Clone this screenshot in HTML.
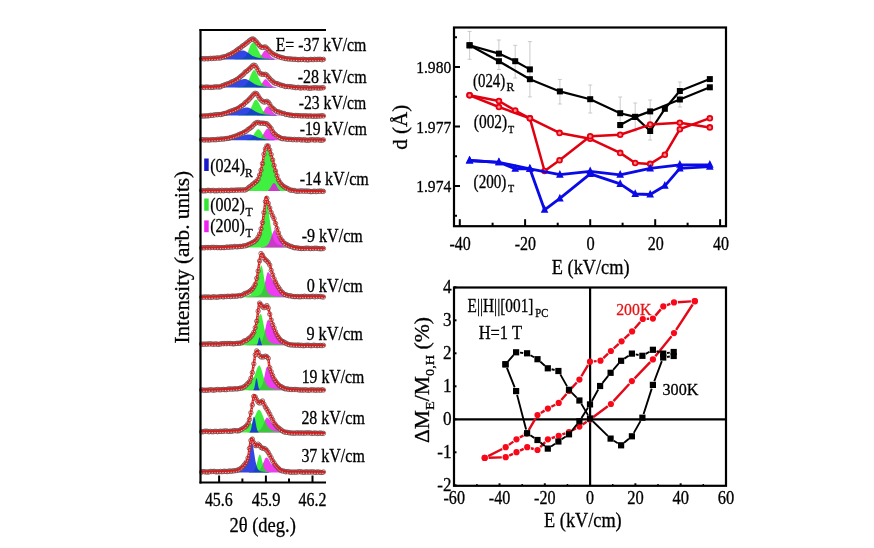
<!DOCTYPE html>
<html><head><meta charset="utf-8"><style>
html,body{margin:0;padding:0;background:#fff;}
svg{display:block;}
text{font-family:'Liberation Serif','Times New Roman',serif;stroke:currentColor;stroke-width:0.3px;}
</style></head><body>
<svg width="874" height="548" viewBox="0 0 874 548">
<rect width="874" height="548" fill="#fff"/>
<polygon points="255.00,59.40 255.00,59.02 255.50,58.96 256.00,58.89 256.50,58.81 257.00,58.70 257.50,58.55 258.00,58.36 258.50,58.12 259.00,57.82 259.50,57.44 260.00,56.99 260.50,56.45 261.00,55.82 261.50,55.12 262.00,54.36 262.50,53.56 263.00,52.76 263.50,52.00 264.00,51.32 264.50,50.80 265.00,50.48 265.50,50.40 266.00,50.54 266.50,50.86 267.00,51.34 267.50,51.93 268.00,52.59 268.50,53.30 269.00,54.01 269.50,54.70 270.00,55.35 270.50,55.95 271.00,56.49 271.50,56.97 272.00,57.38 272.50,57.72 273.00,58.01 273.50,58.25 274.00,58.44 274.50,58.59 275.00,58.71 275.50,58.81 276.00,58.89 276.50,58.95 277.00,58.99 277.50,59.03 277.50,59.40" fill="#ec0bec" fill-opacity="0.8"/>
<polygon points="234.50,59.40 234.50,59.04 235.00,59.03 235.50,59.00 236.00,58.98 236.50,58.96 237.00,58.93 237.50,58.90 238.00,58.87 238.50,58.83 239.00,58.79 239.50,58.74 240.00,58.68 240.50,58.61 241.00,58.53 241.50,58.43 242.00,58.30 242.50,58.14 243.00,57.94 243.50,57.69 244.00,57.39 244.50,57.01 245.00,56.55 245.50,55.99 246.00,55.33 246.50,54.55 247.00,53.66 247.50,52.65 248.00,51.52 248.50,50.30 249.00,49.00 249.50,47.65 250.00,46.30 250.50,45.22 251.00,44.45 251.50,43.76 252.00,43.18 252.50,42.72 253.00,42.41 253.50,42.31 254.00,42.49 254.50,42.94 255.00,43.42 255.50,44.10 256.00,45.16 256.50,46.30 257.00,47.46 257.50,48.62 258.00,49.75 258.50,50.83 259.00,51.85 259.50,52.80 260.00,53.66 260.50,54.43 261.00,55.12 261.50,55.72 262.00,56.24 262.50,56.69 263.00,57.07 263.50,57.39 264.00,57.65 264.50,57.88 265.00,58.06 265.50,58.21 266.00,58.34 266.50,58.44 267.00,58.53 267.50,58.60 268.00,58.66 268.50,58.72 269.00,58.76 269.50,58.80 270.00,58.84 270.50,58.87 271.00,58.90 271.50,58.92 272.00,58.95 272.50,58.97 273.00,58.99 273.50,59.01 274.00,59.03 274.50,59.04 274.50,59.40" fill="#0aec0a" fill-opacity="0.78"/>
<polygon points="201.00,59.40 201.00,58.99 201.50,58.98 202.00,58.97 202.50,58.96 203.00,58.95 203.50,58.94 204.00,58.92 204.50,58.91 205.00,58.90 205.50,58.89 206.00,58.87 206.50,58.86 207.00,58.85 207.50,58.84 208.00,58.82 208.50,58.81 209.00,58.79 209.50,58.77 210.00,58.75 210.50,58.73 211.00,58.71 211.50,58.68 212.00,58.66 212.50,58.64 213.00,58.62 213.50,58.60 214.00,58.57 214.50,58.55 215.00,58.52 215.50,58.49 216.00,58.46 216.50,58.43 217.00,58.39 217.50,58.34 218.00,58.29 218.50,58.24 219.00,58.18 219.50,58.11 220.00,58.03 220.50,57.94 221.00,57.84 221.50,57.73 222.00,57.61 222.50,57.49 223.00,57.38 223.50,57.27 224.00,57.16 224.50,57.03 225.00,56.90 225.50,56.77 226.00,56.62 226.50,56.47 227.00,56.31 227.50,56.14 228.00,55.97 228.50,55.79 229.00,55.60 229.50,55.40 230.00,55.20 230.50,54.99 231.00,54.77 231.50,54.55 232.00,54.32 232.50,54.08 233.00,53.85 233.50,53.60 234.00,53.36 234.50,53.11 235.00,52.87 235.50,52.62 236.00,52.38 236.50,52.15 237.00,51.92 237.50,51.69 238.00,51.48 238.50,51.28 239.00,51.10 239.50,50.93 240.00,50.78 240.50,50.66 241.00,50.56 241.50,50.48 242.00,50.43 242.50,50.40 243.00,50.41 243.50,50.47 244.00,50.58 244.50,50.74 245.00,50.95 245.50,51.19 246.00,51.46 246.50,51.77 247.00,52.09 247.50,52.42 248.00,52.76 248.50,53.11 249.00,53.45 249.50,53.80 250.00,54.13 250.50,54.54 251.00,54.98 251.50,55.35 252.00,55.67 252.50,55.93 253.00,56.14 253.50,56.33 254.00,56.52 254.50,56.71 255.00,56.86 255.50,57.00 256.00,57.17 256.50,57.34 257.00,57.48 257.50,57.62 258.00,57.75 258.50,57.86 259.00,57.96 259.50,58.06 260.00,58.15 260.50,58.23 261.00,58.30 261.50,58.36 262.00,58.42 262.50,58.48 263.00,58.53 263.50,58.57 264.00,58.61 264.50,58.65 265.00,58.68 265.50,58.72 266.00,58.75 266.50,58.77 267.00,58.80 267.50,58.82 268.00,58.84 268.50,58.87 269.00,58.88 269.50,58.90 270.00,58.92 270.50,58.94 271.00,58.95 271.50,58.97 272.00,58.98 272.50,58.99 273.00,59.01 273.50,59.02 274.00,59.03 274.50,59.04 274.50,59.40" fill="#0e26e2" fill-opacity="0.85"/>
<g fill="none" stroke="#7a4646" stroke-width="0.8"><circle cx="201.60" cy="58.76" r="2.2"/><circle cx="203.05" cy="58.61" r="2.2"/><circle cx="204.50" cy="58.94" r="2.2"/><circle cx="205.95" cy="58.50" r="2.2"/><circle cx="207.40" cy="58.79" r="2.2"/><circle cx="208.85" cy="58.62" r="2.2"/><circle cx="210.30" cy="58.35" r="2.2"/><circle cx="211.75" cy="58.59" r="2.2"/><circle cx="213.20" cy="58.19" r="2.2"/><circle cx="214.65" cy="58.40" r="2.2"/><circle cx="216.10" cy="58.05" r="2.2"/><circle cx="217.55" cy="57.94" r="2.2"/><circle cx="219.00" cy="58.01" r="2.2"/><circle cx="220.45" cy="58.04" r="2.2"/><circle cx="221.90" cy="57.22" r="2.2"/><circle cx="223.35" cy="56.88" r="2.2"/><circle cx="224.80" cy="56.66" r="2.2"/><circle cx="226.25" cy="56.33" r="2.2"/><circle cx="227.70" cy="55.49" r="2.2"/><circle cx="229.15" cy="54.75" r="2.2"/><circle cx="230.60" cy="54.50" r="2.2"/><circle cx="232.05" cy="53.13" r="2.2"/><circle cx="233.50" cy="52.91" r="2.2"/><circle cx="234.95" cy="51.63" r="2.2"/><circle cx="236.40" cy="50.54" r="2.2"/><circle cx="237.85" cy="49.45" r="2.2"/><circle cx="239.30" cy="48.46" r="2.2"/><circle cx="240.75" cy="47.68" r="2.2"/><circle cx="242.20" cy="46.13" r="2.2"/><circle cx="243.65" cy="45.32" r="2.2"/><circle cx="245.10" cy="44.27" r="2.2"/><circle cx="246.55" cy="42.98" r="2.2"/><circle cx="248.00" cy="41.97" r="2.2"/><circle cx="249.45" cy="40.59" r="2.2"/><circle cx="250.90" cy="39.59" r="2.2"/><circle cx="252.35" cy="38.87" r="2.2"/><circle cx="253.80" cy="39.27" r="2.2"/><circle cx="255.25" cy="40.70" r="2.2"/><circle cx="256.70" cy="42.19" r="2.2"/><circle cx="258.15" cy="44.02" r="2.2"/><circle cx="259.60" cy="45.79" r="2.2"/><circle cx="261.05" cy="47.08" r="2.2"/><circle cx="262.50" cy="47.48" r="2.2"/><circle cx="263.95" cy="47.14" r="2.2"/><circle cx="265.40" cy="46.93" r="2.2"/><circle cx="266.85" cy="48.19" r="2.2"/><circle cx="268.30" cy="49.66" r="2.2"/><circle cx="269.75" cy="51.41" r="2.2"/><circle cx="271.20" cy="52.75" r="2.2"/><circle cx="272.65" cy="53.62" r="2.2"/><circle cx="274.10" cy="54.97" r="2.2"/><circle cx="275.55" cy="55.09" r="2.2"/><circle cx="277.00" cy="55.90" r="2.2"/><circle cx="278.45" cy="56.74" r="2.2"/><circle cx="279.90" cy="56.91" r="2.2"/><circle cx="281.35" cy="57.62" r="2.2"/><circle cx="282.80" cy="57.66" r="2.2"/><circle cx="284.25" cy="58.36" r="2.2"/><circle cx="285.70" cy="58.64" r="2.2"/><circle cx="287.15" cy="58.69" r="2.2"/><circle cx="288.60" cy="59.05" r="2.2"/><circle cx="290.05" cy="58.80" r="2.2"/><circle cx="291.50" cy="59.18" r="2.2"/><circle cx="292.95" cy="59.21" r="2.2"/><circle cx="294.40" cy="59.28" r="2.2"/><circle cx="295.85" cy="59.26" r="2.2"/><circle cx="297.30" cy="59.59" r="2.2"/><circle cx="298.75" cy="59.72" r="2.2"/><circle cx="300.20" cy="59.43" r="2.2"/><circle cx="301.65" cy="59.59" r="2.2"/><circle cx="303.10" cy="59.19" r="2.2"/><circle cx="304.55" cy="59.66" r="2.2"/><circle cx="306.00" cy="59.64" r="2.2"/><circle cx="307.45" cy="59.89" r="2.2"/><circle cx="308.90" cy="59.78" r="2.2"/><circle cx="310.35" cy="59.41" r="2.2"/><circle cx="311.80" cy="59.49" r="2.2"/><circle cx="313.25" cy="59.69" r="2.2"/><circle cx="314.70" cy="59.25" r="2.2"/><circle cx="316.15" cy="59.56" r="2.2"/><circle cx="317.60" cy="59.35" r="2.2"/><circle cx="319.05" cy="59.32" r="2.2"/><circle cx="320.50" cy="59.28" r="2.2"/><circle cx="321.95" cy="59.78" r="2.2"/><circle cx="323.40" cy="59.33" r="2.2"/></g>
<path d="M200.80,58.90 C202.40,58.86 207.20,58.82 210.40,58.65 C213.60,58.48 217.18,58.41 220.00,57.90 C222.82,57.39 224.87,56.58 227.30,55.60 C229.73,54.62 232.15,53.52 234.60,52.00 C237.05,50.48 240.17,47.87 242.00,46.50 C243.83,45.13 244.38,44.72 245.60,43.80 C246.82,42.88 248.07,41.82 249.30,41.00 C250.53,40.18 252.03,38.97 253.00,38.90 C253.97,38.83 254.25,39.77 255.10,40.60 C255.95,41.43 257.12,42.80 258.10,43.90 C259.08,45.00 260.03,46.68 261.00,47.20 C261.97,47.72 263.05,46.95 263.90,47.00 C264.75,47.05 265.12,46.80 266.10,47.50 C267.08,48.20 268.70,50.15 269.80,51.20 C270.90,52.25 271.48,53.00 272.70,53.80 C273.92,54.60 275.22,55.27 277.10,56.00 C278.98,56.73 280.43,57.63 284.00,58.20 C287.57,58.77 291.65,59.17 298.50,59.40 C305.35,59.63 320.67,59.57 325.10,59.60" fill="none" stroke="#d21e1e" stroke-width="2.5" stroke-linejoin="round"/>
<path d="M200.80,58.90 C202.40,58.86 207.20,58.82 210.40,58.65 C213.60,58.48 217.18,58.41 220.00,57.90 C222.82,57.39 224.87,56.58 227.30,55.60 C229.73,54.62 232.15,53.52 234.60,52.00 C237.05,50.48 240.17,47.87 242.00,46.50 C243.83,45.13 244.38,44.72 245.60,43.80 C246.82,42.88 248.07,41.82 249.30,41.00 C250.53,40.18 252.03,38.97 253.00,38.90 C253.97,38.83 254.25,39.77 255.10,40.60 C255.95,41.43 257.12,42.80 258.10,43.90 C259.08,45.00 260.03,46.68 261.00,47.20 C261.97,47.72 263.05,46.95 263.90,47.00 C264.75,47.05 265.12,46.80 266.10,47.50 C267.08,48.20 268.70,50.15 269.80,51.20 C270.90,52.25 271.48,53.00 272.70,53.80 C273.92,54.60 275.22,55.27 277.10,56.00 C278.98,56.73 280.43,57.63 284.00,58.20 C287.57,58.77 291.65,59.17 298.50,59.40 C305.35,59.63 320.67,59.57 325.10,59.60" fill="none" stroke="#f6d0d0" stroke-width="0.9" stroke-dasharray="1.1 1.6" transform="translate(0,1.15)"/>
<polygon points="255.50,87.60 255.50,87.21 256.00,87.15 256.50,87.08 257.00,86.99 257.50,86.87 258.00,86.71 258.50,86.50 259.00,86.24 259.50,85.92 260.00,85.53 260.50,85.05 261.00,84.50 261.50,83.88 262.00,83.19 262.50,82.45 263.00,81.70 263.50,80.97 264.00,80.30 264.50,79.75 265.00,79.37 265.50,79.20 266.00,79.26 266.50,79.49 267.00,79.88 267.50,80.40 268.00,80.99 268.50,81.64 269.00,82.30 269.50,82.96 270.00,83.58 270.50,84.16 271.00,84.69 271.50,85.16 272.00,85.57 272.50,85.91 273.00,86.20 273.50,86.44 274.00,86.64 274.50,86.79 275.00,86.92 275.50,87.02 276.00,87.09 276.50,87.15 277.00,87.20 277.50,87.24 277.50,87.60" fill="#ec0bec" fill-opacity="0.8"/>
<polygon points="235.00,87.60 235.00,87.24 235.50,87.22 236.00,87.20 236.50,87.18 237.00,87.15 237.50,87.13 238.00,87.10 238.50,87.07 239.00,87.03 239.50,86.99 240.00,86.94 240.50,86.88 241.00,86.82 241.50,86.73 242.00,86.63 242.50,86.51 243.00,86.36 243.50,86.17 244.00,85.95 244.50,85.66 245.00,85.32 245.50,84.91 246.00,84.41 246.50,83.83 247.00,83.14 247.50,82.36 248.00,81.48 248.50,80.49 249.00,79.42 249.50,78.27 250.00,77.06 250.50,75.82 251.00,74.59 251.50,73.42 252.00,72.34 252.50,71.42 253.00,70.70 253.50,70.25 254.00,70.10 254.50,70.23 255.00,70.60 255.50,71.19 256.00,71.96 256.50,72.89 257.00,73.91 257.50,75.00 258.00,76.12 258.50,77.23 259.00,78.32 259.50,79.36 260.00,80.34 260.50,81.25 261.00,82.08 261.50,82.82 262.00,83.48 262.50,84.06 263.00,84.56 263.50,84.99 264.00,85.36 264.50,85.66 265.00,85.92 265.50,86.13 266.00,86.31 266.50,86.46 267.00,86.58 267.50,86.68 268.00,86.76 268.50,86.83 269.00,86.89 269.50,86.94 270.00,86.99 270.50,87.02 271.00,87.06 271.50,87.09 272.00,87.12 272.50,87.14 273.00,87.16 273.50,87.19 274.00,87.20 274.50,87.22 275.00,87.24 275.00,87.60" fill="#0aec0a" fill-opacity="0.78"/>
<polygon points="208.00,87.60 208.00,87.25 208.50,87.24 209.00,87.23 209.50,87.21 210.00,87.20 210.50,87.18 211.00,87.17 211.50,87.16 212.00,87.15 212.50,87.14 213.00,87.13 213.50,87.12 214.00,87.12 214.50,87.11 215.00,87.09 215.50,87.08 216.00,87.06 216.50,87.04 217.00,87.02 217.50,86.98 218.00,86.95 218.50,86.90 219.00,86.85 219.50,86.78 220.00,86.71 220.50,86.62 221.00,86.51 221.50,86.39 222.00,86.25 222.50,86.14 223.00,86.07 223.50,85.99 224.00,85.90 224.50,85.81 225.00,85.71 225.50,85.61 226.00,85.50 226.50,85.39 227.00,85.26 227.50,85.14 228.00,85.00 228.50,84.86 229.00,84.71 229.50,84.55 230.00,84.39 230.50,84.22 231.00,84.04 231.50,83.85 232.00,83.66 232.50,83.46 233.00,83.26 233.50,83.05 234.00,82.83 234.50,82.61 235.00,82.38 235.50,82.15 236.00,81.92 236.50,81.69 237.00,81.45 237.50,81.22 238.00,80.99 238.50,80.76 239.00,80.54 239.50,80.32 240.00,80.11 240.50,79.92 241.00,79.74 241.50,79.57 242.00,79.42 242.50,79.29 243.00,79.19 243.50,79.10 244.00,79.04 244.50,79.01 245.00,79.00 245.50,79.04 246.00,79.12 246.50,79.26 247.00,79.44 247.50,79.66 248.00,79.91 248.50,80.19 249.00,80.49 249.50,80.80 250.00,81.13 250.50,81.46 251.00,81.79 251.50,82.12 252.00,82.44 252.50,82.76 253.00,83.06 253.50,83.36 254.00,83.64 254.50,83.91 255.00,84.17 255.50,84.41 256.00,84.64 256.50,84.85 257.00,85.05 257.50,85.24 258.00,85.41 258.50,85.57 259.00,85.71 259.50,85.85 260.00,85.97 260.50,86.09 261.00,86.19 261.50,86.28 262.00,86.37 262.50,86.45 263.00,86.52 263.50,86.58 264.00,86.64 264.50,86.70 265.00,86.75 265.50,86.79 266.00,86.83 266.50,86.87 267.00,86.90 267.50,86.93 268.00,86.96 268.50,86.99 269.00,87.02 269.50,87.04 270.00,87.06 270.50,87.08 271.00,87.10 271.50,87.12 272.00,87.13 272.50,87.15 273.00,87.17 273.50,87.18 274.00,87.19 274.50,87.21 275.00,87.22 275.50,87.23 276.00,87.24 276.00,87.60" fill="#0e26e2" fill-opacity="0.85"/>
<g fill="none" stroke="#7a4646" stroke-width="0.8"><circle cx="201.60" cy="87.11" r="2.2"/><circle cx="203.05" cy="87.19" r="2.2"/><circle cx="204.50" cy="87.51" r="2.2"/><circle cx="205.95" cy="86.94" r="2.2"/><circle cx="207.40" cy="87.17" r="2.2"/><circle cx="208.85" cy="87.21" r="2.2"/><circle cx="210.30" cy="87.40" r="2.2"/><circle cx="211.75" cy="87.31" r="2.2"/><circle cx="213.20" cy="87.32" r="2.2"/><circle cx="214.65" cy="86.88" r="2.2"/><circle cx="216.10" cy="86.93" r="2.2"/><circle cx="217.55" cy="86.80" r="2.2"/><circle cx="219.00" cy="87.02" r="2.2"/><circle cx="220.45" cy="86.83" r="2.2"/><circle cx="221.90" cy="85.89" r="2.2"/><circle cx="223.35" cy="85.41" r="2.2"/><circle cx="224.80" cy="84.86" r="2.2"/><circle cx="226.25" cy="84.25" r="2.2"/><circle cx="227.70" cy="83.83" r="2.2"/><circle cx="229.15" cy="83.35" r="2.2"/><circle cx="230.60" cy="82.55" r="2.2"/><circle cx="232.05" cy="81.75" r="2.2"/><circle cx="233.50" cy="81.35" r="2.2"/><circle cx="234.95" cy="80.50" r="2.2"/><circle cx="236.40" cy="79.69" r="2.2"/><circle cx="237.85" cy="78.93" r="2.2"/><circle cx="239.30" cy="77.66" r="2.2"/><circle cx="240.75" cy="76.41" r="2.2"/><circle cx="242.20" cy="75.32" r="2.2"/><circle cx="243.65" cy="74.07" r="2.2"/><circle cx="245.10" cy="72.16" r="2.2"/><circle cx="246.55" cy="71.43" r="2.2"/><circle cx="248.00" cy="70.09" r="2.2"/><circle cx="249.45" cy="68.93" r="2.2"/><circle cx="250.90" cy="67.49" r="2.2"/><circle cx="252.35" cy="65.87" r="2.2"/><circle cx="253.80" cy="65.12" r="2.2"/><circle cx="255.25" cy="65.55" r="2.2"/><circle cx="256.70" cy="67.84" r="2.2"/><circle cx="258.15" cy="70.40" r="2.2"/><circle cx="259.60" cy="73.01" r="2.2"/><circle cx="261.05" cy="74.00" r="2.2"/><circle cx="262.50" cy="74.26" r="2.2"/><circle cx="263.95" cy="74.44" r="2.2"/><circle cx="265.40" cy="74.30" r="2.2"/><circle cx="266.85" cy="75.15" r="2.2"/><circle cx="268.30" cy="76.91" r="2.2"/><circle cx="269.75" cy="78.57" r="2.2"/><circle cx="271.20" cy="80.21" r="2.2"/><circle cx="272.65" cy="81.27" r="2.2"/><circle cx="274.10" cy="82.81" r="2.2"/><circle cx="275.55" cy="83.33" r="2.2"/><circle cx="277.00" cy="83.58" r="2.2"/><circle cx="278.45" cy="84.17" r="2.2"/><circle cx="279.90" cy="84.78" r="2.2"/><circle cx="281.35" cy="85.27" r="2.2"/><circle cx="282.80" cy="85.42" r="2.2"/><circle cx="284.25" cy="86.19" r="2.2"/><circle cx="285.70" cy="86.54" r="2.2"/><circle cx="287.15" cy="86.42" r="2.2"/><circle cx="288.60" cy="86.67" r="2.2"/><circle cx="290.05" cy="86.61" r="2.2"/><circle cx="291.50" cy="86.81" r="2.2"/><circle cx="292.95" cy="87.15" r="2.2"/><circle cx="294.40" cy="87.25" r="2.2"/><circle cx="295.85" cy="87.76" r="2.2"/><circle cx="297.30" cy="87.40" r="2.2"/><circle cx="298.75" cy="87.38" r="2.2"/><circle cx="300.20" cy="88.08" r="2.2"/><circle cx="301.65" cy="87.83" r="2.2"/><circle cx="303.10" cy="87.59" r="2.2"/><circle cx="304.55" cy="87.89" r="2.2"/><circle cx="306.00" cy="87.55" r="2.2"/><circle cx="307.45" cy="87.91" r="2.2"/><circle cx="308.90" cy="88.24" r="2.2"/><circle cx="310.35" cy="88.16" r="2.2"/><circle cx="311.80" cy="88.05" r="2.2"/><circle cx="313.25" cy="87.75" r="2.2"/><circle cx="314.70" cy="87.82" r="2.2"/><circle cx="316.15" cy="87.68" r="2.2"/><circle cx="317.60" cy="88.10" r="2.2"/><circle cx="319.05" cy="87.93" r="2.2"/><circle cx="320.50" cy="88.10" r="2.2"/><circle cx="321.95" cy="87.78" r="2.2"/><circle cx="323.40" cy="87.70" r="2.2"/></g>
<path d="M200.80,87.30 C202.40,87.27 207.20,87.24 210.40,87.12 C213.60,87.01 217.18,87.12 220.00,86.60 C222.82,86.08 224.87,84.97 227.30,84.00 C229.73,83.03 232.15,82.23 234.60,80.80 C237.05,79.37 240.17,76.87 242.00,75.40 C243.83,73.93 244.38,73.10 245.60,72.00 C246.82,70.90 247.95,69.93 249.30,68.80 C250.65,67.67 252.48,65.40 253.70,65.20 C254.92,65.00 255.63,66.27 256.60,67.60 C257.57,68.93 258.52,72.05 259.50,73.20 C260.48,74.35 261.40,74.22 262.50,74.50 C263.60,74.78 264.88,74.17 266.10,74.90 C267.32,75.63 268.57,77.68 269.80,78.90 C271.03,80.12 272.03,81.28 273.50,82.20 C274.97,83.12 276.85,83.78 278.60,84.40 C280.35,85.02 280.68,85.35 284.00,85.90 C287.32,86.45 291.65,87.37 298.50,87.70 C305.35,88.03 320.67,87.87 325.10,87.90" fill="none" stroke="#d21e1e" stroke-width="2.5" stroke-linejoin="round"/>
<path d="M200.80,87.30 C202.40,87.27 207.20,87.24 210.40,87.12 C213.60,87.01 217.18,87.12 220.00,86.60 C222.82,86.08 224.87,84.97 227.30,84.00 C229.73,83.03 232.15,82.23 234.60,80.80 C237.05,79.37 240.17,76.87 242.00,75.40 C243.83,73.93 244.38,73.10 245.60,72.00 C246.82,70.90 247.95,69.93 249.30,68.80 C250.65,67.67 252.48,65.40 253.70,65.20 C254.92,65.00 255.63,66.27 256.60,67.60 C257.57,68.93 258.52,72.05 259.50,73.20 C260.48,74.35 261.40,74.22 262.50,74.50 C263.60,74.78 264.88,74.17 266.10,74.90 C267.32,75.63 268.57,77.68 269.80,78.90 C271.03,80.12 272.03,81.28 273.50,82.20 C274.97,83.12 276.85,83.78 278.60,84.40 C280.35,85.02 280.68,85.35 284.00,85.90 C287.32,86.45 291.65,87.37 298.50,87.70 C305.35,88.03 320.67,87.87 325.10,87.90" fill="none" stroke="#f6d0d0" stroke-width="0.9" stroke-dasharray="1.1 1.6" transform="translate(0,1.15)"/>
<polygon points="257.00,115.50 257.00,115.12 257.50,115.08 258.00,115.02 258.50,114.94 259.00,114.84 259.50,114.70 260.00,114.53 260.50,114.31 261.00,114.03 261.50,113.68 262.00,113.25 262.50,112.74 263.00,112.14 263.50,111.47 264.00,110.72 264.50,109.92 265.00,109.11 265.50,108.32 266.00,107.59 266.50,106.99 267.00,106.58 267.50,106.41 268.00,106.46 268.50,106.72 269.00,107.14 269.50,107.70 270.00,108.34 270.50,109.04 271.00,109.76 271.50,110.47 272.00,111.15 272.50,111.78 273.00,112.35 273.50,112.86 274.00,113.30 274.50,113.67 275.00,113.99 275.50,114.25 276.00,114.46 276.50,114.63 277.00,114.76 277.50,114.87 278.00,114.95 278.50,115.02 279.00,115.07 279.50,115.11 280.00,115.15 280.00,115.50" fill="#ec0bec" fill-opacity="0.8"/>
<polygon points="238.00,115.50 238.00,115.14 238.50,115.12 239.00,115.09 239.50,115.07 240.00,115.04 240.50,115.01 241.00,114.98 241.50,114.94 242.00,114.89 242.50,114.84 243.00,114.78 243.50,114.70 244.00,114.61 244.50,114.49 245.00,114.35 245.50,114.18 246.00,113.96 246.50,113.69 247.00,113.37 247.50,112.98 248.00,112.52 248.50,111.98 249.00,111.34 249.50,110.62 250.00,109.80 250.50,108.89 251.00,107.91 251.50,106.86 252.00,105.76 252.50,104.64 253.00,103.54 253.50,102.49 254.00,101.54 254.50,100.74 255.00,100.14 255.50,99.79 256.00,99.70 256.50,99.86 257.00,100.24 257.50,100.81 258.00,101.54 258.50,102.39 259.00,103.33 259.50,104.33 260.00,105.34 260.50,106.34 261.00,107.32 261.50,108.25 262.00,109.12 262.50,109.92 263.00,110.65 263.50,111.31 264.00,111.89 264.50,112.40 265.00,112.84 265.50,113.22 266.00,113.53 266.50,113.80 267.00,114.03 267.50,114.21 268.00,114.37 268.50,114.49 269.00,114.60 269.50,114.68 270.00,114.76 270.50,114.82 271.00,114.87 271.50,114.91 272.00,114.95 272.50,114.99 273.00,115.02 273.50,115.04 274.00,115.07 274.50,115.09 275.00,115.11 275.50,115.13 276.00,115.15 276.00,115.50" fill="#0aec0a" fill-opacity="0.78"/>
<polygon points="215.50,115.50 215.50,115.14 216.00,115.09 216.50,115.05 217.00,115.00 217.50,114.95 218.00,114.89 218.50,114.83 219.00,114.76 219.50,114.69 220.00,114.62 220.50,114.58 221.00,114.54 221.50,114.50 222.00,114.45 222.50,114.40 223.00,114.35 223.50,114.29 224.00,114.23 224.50,114.17 225.00,114.10 225.50,114.03 226.00,113.95 226.50,113.87 227.00,113.78 227.50,113.69 228.00,113.59 228.50,113.48 229.00,113.37 229.50,113.26 230.00,113.13 230.50,113.00 231.00,112.87 231.50,112.72 232.00,112.57 232.50,112.42 233.00,112.25 233.50,112.09 234.00,111.91 234.50,111.73 235.00,111.54 235.50,111.34 236.00,111.14 236.50,110.94 237.00,110.73 237.50,110.52 238.00,110.30 238.50,110.09 239.00,109.87 239.50,109.65 240.00,109.43 240.50,109.22 241.00,109.01 241.50,108.81 242.00,108.61 242.50,108.42 243.00,108.25 243.50,108.09 244.00,107.94 244.50,107.82 245.00,107.71 245.50,107.62 246.00,107.56 246.50,107.52 247.00,107.50 247.50,107.52 248.00,107.58 248.50,107.69 249.00,107.84 249.50,108.03 250.00,108.25 250.50,108.50 251.00,108.77 251.50,109.06 252.00,109.36 252.50,109.66 253.00,109.97 253.50,110.28 254.00,110.58 254.50,110.88 255.00,111.17 255.50,111.45 256.00,111.71 256.50,111.97 257.00,112.21 257.50,112.44 258.00,112.66 258.50,112.87 259.00,113.06 259.50,113.23 260.00,113.40 260.50,113.55 261.00,113.69 261.50,113.82 262.00,113.94 262.50,114.05 263.00,114.15 263.50,114.24 264.00,114.32 264.50,114.40 265.00,114.47 265.50,114.53 266.00,114.59 266.50,114.64 267.00,114.69 267.50,114.73 268.00,114.77 268.50,114.81 269.00,114.84 269.50,114.87 270.00,114.90 270.50,114.92 271.00,114.95 271.50,114.97 272.00,114.99 272.50,115.01 273.00,115.03 273.50,115.05 274.00,115.06 274.50,115.08 275.00,115.09 275.50,115.10 276.00,115.12 276.50,115.13 277.00,115.14 277.00,115.50" fill="#0e26e2" fill-opacity="0.85"/>
<g fill="none" stroke="#7a4646" stroke-width="0.8"><circle cx="201.60" cy="116.00" r="2.2"/><circle cx="203.05" cy="116.08" r="2.2"/><circle cx="204.50" cy="115.96" r="2.2"/><circle cx="205.95" cy="115.89" r="2.2"/><circle cx="207.40" cy="115.85" r="2.2"/><circle cx="208.85" cy="115.73" r="2.2"/><circle cx="210.30" cy="115.29" r="2.2"/><circle cx="211.75" cy="115.39" r="2.2"/><circle cx="213.20" cy="115.18" r="2.2"/><circle cx="214.65" cy="114.83" r="2.2"/><circle cx="216.10" cy="114.69" r="2.2"/><circle cx="217.55" cy="114.71" r="2.2"/><circle cx="219.00" cy="114.50" r="2.2"/><circle cx="220.45" cy="114.55" r="2.2"/><circle cx="221.90" cy="114.40" r="2.2"/><circle cx="223.35" cy="113.64" r="2.2"/><circle cx="224.80" cy="113.52" r="2.2"/><circle cx="226.25" cy="113.08" r="2.2"/><circle cx="227.70" cy="112.60" r="2.2"/><circle cx="229.15" cy="111.77" r="2.2"/><circle cx="230.60" cy="111.25" r="2.2"/><circle cx="232.05" cy="110.80" r="2.2"/><circle cx="233.50" cy="110.26" r="2.2"/><circle cx="234.95" cy="109.63" r="2.2"/><circle cx="236.40" cy="109.17" r="2.2"/><circle cx="237.85" cy="108.53" r="2.2"/><circle cx="239.30" cy="107.60" r="2.2"/><circle cx="240.75" cy="106.42" r="2.2"/><circle cx="242.20" cy="105.57" r="2.2"/><circle cx="243.65" cy="104.59" r="2.2"/><circle cx="245.10" cy="102.78" r="2.2"/><circle cx="246.55" cy="101.80" r="2.2"/><circle cx="248.00" cy="100.51" r="2.2"/><circle cx="249.45" cy="98.95" r="2.2"/><circle cx="250.90" cy="97.46" r="2.2"/><circle cx="252.35" cy="95.82" r="2.2"/><circle cx="253.80" cy="94.10" r="2.2"/><circle cx="255.25" cy="93.22" r="2.2"/><circle cx="256.70" cy="93.69" r="2.2"/><circle cx="258.15" cy="95.88" r="2.2"/><circle cx="259.60" cy="98.30" r="2.2"/><circle cx="261.05" cy="99.98" r="2.2"/><circle cx="262.50" cy="101.16" r="2.2"/><circle cx="263.95" cy="102.12" r="2.2"/><circle cx="265.40" cy="101.84" r="2.2"/><circle cx="266.85" cy="101.29" r="2.2"/><circle cx="268.30" cy="102.16" r="2.2"/><circle cx="269.75" cy="104.17" r="2.2"/><circle cx="271.20" cy="106.76" r="2.2"/><circle cx="272.65" cy="108.38" r="2.2"/><circle cx="274.10" cy="109.35" r="2.2"/><circle cx="275.55" cy="110.82" r="2.2"/><circle cx="277.00" cy="111.60" r="2.2"/><circle cx="278.45" cy="111.93" r="2.2"/><circle cx="279.90" cy="112.26" r="2.2"/><circle cx="281.35" cy="113.11" r="2.2"/><circle cx="282.80" cy="113.30" r="2.2"/><circle cx="284.25" cy="113.51" r="2.2"/><circle cx="285.70" cy="114.46" r="2.2"/><circle cx="287.15" cy="114.51" r="2.2"/><circle cx="288.60" cy="114.68" r="2.2"/><circle cx="290.05" cy="115.21" r="2.2"/><circle cx="291.50" cy="115.08" r="2.2"/><circle cx="292.95" cy="115.57" r="2.2"/><circle cx="294.40" cy="115.71" r="2.2"/><circle cx="295.85" cy="115.41" r="2.2"/><circle cx="297.30" cy="115.55" r="2.2"/><circle cx="298.75" cy="115.67" r="2.2"/><circle cx="300.20" cy="115.69" r="2.2"/><circle cx="301.65" cy="115.98" r="2.2"/><circle cx="303.10" cy="115.78" r="2.2"/><circle cx="304.55" cy="115.92" r="2.2"/><circle cx="306.00" cy="115.73" r="2.2"/><circle cx="307.45" cy="116.29" r="2.2"/><circle cx="308.90" cy="115.91" r="2.2"/><circle cx="310.35" cy="115.99" r="2.2"/><circle cx="311.80" cy="116.08" r="2.2"/><circle cx="313.25" cy="116.31" r="2.2"/><circle cx="314.70" cy="115.97" r="2.2"/><circle cx="316.15" cy="116.31" r="2.2"/><circle cx="317.60" cy="116.02" r="2.2"/><circle cx="319.05" cy="116.03" r="2.2"/><circle cx="320.50" cy="116.02" r="2.2"/><circle cx="321.95" cy="115.66" r="2.2"/><circle cx="323.40" cy="115.95" r="2.2"/></g>
<path d="M200.80,115.80 C202.40,115.75 207.20,115.69 210.40,115.47 C213.60,115.26 217.18,115.01 220.00,114.50 C222.82,113.99 224.87,113.15 227.30,112.40 C229.73,111.65 232.15,111.13 234.60,110.00 C237.05,108.87 240.17,106.83 242.00,105.60 C243.83,104.37 244.38,103.72 245.60,102.60 C246.82,101.48 248.07,100.13 249.30,98.90 C250.53,97.67 251.97,96.18 253.00,95.20 C254.03,94.22 254.65,92.93 255.50,93.00 C256.35,93.07 257.18,94.43 258.10,95.60 C259.02,96.77 260.03,98.97 261.00,100.00 C261.97,101.03 262.80,101.50 263.90,101.80 C265.00,102.10 266.37,101.00 267.60,101.80 C268.83,102.60 270.08,105.20 271.30,106.60 C272.52,108.00 273.45,109.23 274.90,110.20 C276.35,111.17 278.48,111.80 280.00,112.40 C281.52,113.00 280.92,113.23 284.00,113.80 C287.08,114.37 291.65,115.43 298.50,115.80 C305.35,116.17 320.67,115.97 325.10,116.00" fill="none" stroke="#d21e1e" stroke-width="2.5" stroke-linejoin="round"/>
<path d="M200.80,115.80 C202.40,115.75 207.20,115.69 210.40,115.47 C213.60,115.26 217.18,115.01 220.00,114.50 C222.82,113.99 224.87,113.15 227.30,112.40 C229.73,111.65 232.15,111.13 234.60,110.00 C237.05,108.87 240.17,106.83 242.00,105.60 C243.83,104.37 244.38,103.72 245.60,102.60 C246.82,101.48 248.07,100.13 249.30,98.90 C250.53,97.67 251.97,96.18 253.00,95.20 C254.03,94.22 254.65,92.93 255.50,93.00 C256.35,93.07 257.18,94.43 258.10,95.60 C259.02,96.77 260.03,98.97 261.00,100.00 C261.97,101.03 262.80,101.50 263.90,101.80 C265.00,102.10 266.37,101.00 267.60,101.80 C268.83,102.60 270.08,105.20 271.30,106.60 C272.52,108.00 273.45,109.23 274.90,110.20 C276.35,111.17 278.48,111.80 280.00,112.40 C281.52,113.00 280.92,113.23 284.00,113.80 C287.08,114.37 291.65,115.43 298.50,115.80 C305.35,116.17 320.67,115.97 325.10,116.00" fill="none" stroke="#f6d0d0" stroke-width="0.9" stroke-dasharray="1.1 1.6" transform="translate(0,1.15)"/>
<polygon points="256.00,140.20 256.00,139.81 256.50,139.74 257.00,139.66 257.50,139.54 258.00,139.40 258.50,139.22 259.00,138.98 259.50,138.70 260.00,138.35 260.50,137.92 261.00,137.42 261.50,136.84 262.00,136.19 262.50,135.46 263.00,134.66 263.50,133.82 264.00,132.96 264.50,132.09 265.00,131.25 265.50,130.49 266.00,129.82 266.50,129.30 267.00,128.95 267.50,128.80 268.00,128.85 268.50,129.07 269.00,129.45 269.50,129.96 270.00,130.57 270.50,131.27 271.00,132.02 271.50,132.80 272.00,133.58 272.50,134.35 273.00,135.08 273.50,135.77 274.00,136.41 274.50,136.98 275.00,137.49 275.50,137.93 276.00,138.31 276.50,138.64 277.00,138.91 277.50,139.13 278.00,139.32 278.50,139.47 279.00,139.58 279.50,139.68 280.00,139.75 280.50,139.81 280.50,140.20" fill="#ec0bec" fill-opacity="0.8"/>
<polygon points="246.00,140.20 246.00,139.84 246.50,139.78 247.00,139.71 247.50,139.62 248.00,139.50 248.50,139.35 249.00,139.17 249.50,138.94 250.00,138.66 250.50,138.32 251.00,137.92 251.50,137.45 252.00,136.92 252.50,136.31 253.00,135.65 253.50,134.93 254.00,134.16 254.50,133.37 255.00,132.58 255.50,131.80 256.00,131.07 256.50,130.43 257.00,129.89 257.50,129.49 258.00,129.26 258.50,129.20 259.00,129.35 259.50,129.68 260.00,130.19 260.50,130.83 261.00,131.57 261.50,132.37 262.00,133.21 262.50,134.05 263.00,134.86 263.50,135.62 264.00,136.33 264.50,136.96 265.00,137.52 265.50,138.00 266.00,138.41 266.50,138.75 267.00,139.03 267.50,139.25 268.00,139.43 268.50,139.57 269.00,139.68 269.50,139.76 270.00,139.82 270.00,140.20" fill="#0aec0a" fill-opacity="0.78"/>
<polygon points="213.50,140.20 213.50,139.84 214.00,139.83 214.50,139.82 215.00,139.81 215.50,139.80 216.00,139.79 216.50,139.78 217.00,139.76 217.50,139.75 218.00,139.73 218.50,139.72 219.00,139.70 219.50,139.68 220.00,139.66 220.50,139.64 221.00,139.62 221.50,139.60 222.00,139.57 222.50,139.55 223.00,139.52 223.50,139.49 224.00,139.45 224.50,139.42 225.00,139.38 225.50,139.34 226.00,139.30 226.50,139.26 227.00,139.21 227.50,139.16 228.00,139.10 228.50,139.04 229.00,138.98 229.50,138.91 230.00,138.84 230.50,138.77 231.00,138.69 231.50,138.61 232.00,138.52 232.50,138.43 233.00,138.33 233.50,138.23 234.00,138.12 234.50,138.01 235.00,137.90 235.50,137.77 236.00,137.65 236.50,137.52 237.00,137.38 237.50,137.24 238.00,137.10 238.50,136.95 239.00,136.80 239.50,136.65 240.00,136.50 240.50,136.34 241.00,136.18 241.50,136.02 242.00,135.86 242.50,135.71 243.00,135.56 243.50,135.41 244.00,135.26 244.50,135.12 245.00,134.99 245.50,134.87 246.00,134.76 246.50,134.67 247.00,134.58 247.50,134.51 248.00,134.46 248.50,134.42 249.00,134.40 249.50,134.40 250.00,134.43 250.50,134.50 251.00,134.60 251.50,134.72 252.00,134.88 252.50,135.05 253.00,135.24 253.50,135.44 254.00,135.66 254.50,135.88 255.00,136.10 255.50,136.32 256.00,136.55 256.50,136.76 257.00,136.97 257.50,137.18 258.00,137.38 258.50,137.57 259.00,137.75 259.50,137.92 260.00,138.08 260.50,138.23 261.00,138.37 261.50,138.51 262.00,138.63 262.50,138.74 263.00,138.85 263.50,138.95 264.00,139.04 264.50,139.12 265.00,139.19 265.50,139.26 266.00,139.32 266.50,139.38 267.00,139.43 267.50,139.48 268.00,139.52 268.50,139.56 269.00,139.60 269.50,139.63 270.00,139.66 270.50,139.69 271.00,139.71 271.50,139.73 272.00,139.76 272.50,139.77 273.00,139.79 273.50,139.81 274.00,139.82 274.50,139.84 274.50,140.20" fill="#0e26e2" fill-opacity="0.85"/>
<g fill="none" stroke="#7a4646" stroke-width="0.8"><circle cx="201.60" cy="139.77" r="2.2"/><circle cx="203.05" cy="139.62" r="2.2"/><circle cx="204.50" cy="140.16" r="2.2"/><circle cx="205.95" cy="139.70" r="2.2"/><circle cx="207.40" cy="139.89" r="2.2"/><circle cx="208.85" cy="140.03" r="2.2"/><circle cx="210.30" cy="139.87" r="2.2"/><circle cx="211.75" cy="139.65" r="2.2"/><circle cx="213.20" cy="139.73" r="2.2"/><circle cx="214.65" cy="139.69" r="2.2"/><circle cx="216.10" cy="139.77" r="2.2"/><circle cx="217.55" cy="139.21" r="2.2"/><circle cx="219.00" cy="139.43" r="2.2"/><circle cx="220.45" cy="139.08" r="2.2"/><circle cx="221.90" cy="138.96" r="2.2"/><circle cx="223.35" cy="139.13" r="2.2"/><circle cx="224.80" cy="138.75" r="2.2"/><circle cx="226.25" cy="138.54" r="2.2"/><circle cx="227.70" cy="138.40" r="2.2"/><circle cx="229.15" cy="138.20" r="2.2"/><circle cx="230.60" cy="137.53" r="2.2"/><circle cx="232.05" cy="137.27" r="2.2"/><circle cx="233.50" cy="136.77" r="2.2"/><circle cx="234.95" cy="136.28" r="2.2"/><circle cx="236.40" cy="135.86" r="2.2"/><circle cx="237.85" cy="135.10" r="2.2"/><circle cx="239.30" cy="134.51" r="2.2"/><circle cx="240.75" cy="133.80" r="2.2"/><circle cx="242.20" cy="133.41" r="2.2"/><circle cx="243.65" cy="132.48" r="2.2"/><circle cx="245.10" cy="131.80" r="2.2"/><circle cx="246.55" cy="130.95" r="2.2"/><circle cx="248.00" cy="129.49" r="2.2"/><circle cx="249.45" cy="128.57" r="2.2"/><circle cx="250.90" cy="127.60" r="2.2"/><circle cx="252.35" cy="126.28" r="2.2"/><circle cx="253.80" cy="124.57" r="2.2"/><circle cx="255.25" cy="123.26" r="2.2"/><circle cx="256.70" cy="122.59" r="2.2"/><circle cx="258.15" cy="122.39" r="2.2"/><circle cx="259.60" cy="123.08" r="2.2"/><circle cx="261.05" cy="123.06" r="2.2"/><circle cx="262.50" cy="123.20" r="2.2"/><circle cx="263.95" cy="123.21" r="2.2"/><circle cx="265.40" cy="123.61" r="2.2"/><circle cx="266.85" cy="123.69" r="2.2"/><circle cx="268.30" cy="125.15" r="2.2"/><circle cx="269.75" cy="126.87" r="2.2"/><circle cx="271.20" cy="128.61" r="2.2"/><circle cx="272.65" cy="131.56" r="2.2"/><circle cx="274.10" cy="133.58" r="2.2"/><circle cx="275.55" cy="134.66" r="2.2"/><circle cx="277.00" cy="136.25" r="2.2"/><circle cx="278.45" cy="136.74" r="2.2"/><circle cx="279.90" cy="137.56" r="2.2"/><circle cx="281.35" cy="138.48" r="2.2"/><circle cx="282.80" cy="138.78" r="2.2"/><circle cx="284.25" cy="138.61" r="2.2"/><circle cx="285.70" cy="139.01" r="2.2"/><circle cx="287.15" cy="139.24" r="2.2"/><circle cx="288.60" cy="139.25" r="2.2"/><circle cx="290.05" cy="139.25" r="2.2"/><circle cx="291.50" cy="139.42" r="2.2"/><circle cx="292.95" cy="139.77" r="2.2"/><circle cx="294.40" cy="139.33" r="2.2"/><circle cx="295.85" cy="139.76" r="2.2"/><circle cx="297.30" cy="139.72" r="2.2"/><circle cx="298.75" cy="139.47" r="2.2"/><circle cx="300.20" cy="139.72" r="2.2"/><circle cx="301.65" cy="139.95" r="2.2"/><circle cx="303.10" cy="139.90" r="2.2"/><circle cx="304.55" cy="139.60" r="2.2"/><circle cx="306.00" cy="140.26" r="2.2"/><circle cx="307.45" cy="140.13" r="2.2"/><circle cx="308.90" cy="140.27" r="2.2"/><circle cx="310.35" cy="139.67" r="2.2"/><circle cx="311.80" cy="139.79" r="2.2"/><circle cx="313.25" cy="139.64" r="2.2"/><circle cx="314.70" cy="140.16" r="2.2"/><circle cx="316.15" cy="139.81" r="2.2"/><circle cx="317.60" cy="139.72" r="2.2"/><circle cx="319.05" cy="139.93" r="2.2"/><circle cx="320.50" cy="140.27" r="2.2"/><circle cx="321.95" cy="140.21" r="2.2"/><circle cx="323.40" cy="139.82" r="2.2"/></g>
<path d="M200.80,140.00 C202.40,139.97 207.20,139.94 210.40,139.82 C213.60,139.71 217.18,139.55 220.00,139.30 C222.82,139.05 224.87,138.78 227.30,138.30 C229.73,137.82 232.15,137.25 234.60,136.40 C237.05,135.55 239.80,134.30 242.00,133.20 C244.20,132.10 245.97,131.08 247.80,129.80 C249.63,128.52 251.50,126.70 253.00,125.50 C254.50,124.30 255.58,122.95 256.80,122.60 C258.02,122.25 259.12,123.33 260.30,123.40 C261.48,123.47 262.68,122.83 263.90,123.00 C265.12,123.17 266.50,123.60 267.60,124.40 C268.70,125.20 269.52,126.45 270.50,127.80 C271.48,129.15 272.40,131.13 273.50,132.50 C274.60,133.87 275.35,134.95 277.10,136.00 C278.85,137.05 280.43,138.17 284.00,138.80 C287.57,139.43 291.65,139.60 298.50,139.80 C305.35,140.00 320.67,139.97 325.10,140.00" fill="none" stroke="#d21e1e" stroke-width="2.5" stroke-linejoin="round"/>
<path d="M200.80,140.00 C202.40,139.97 207.20,139.94 210.40,139.82 C213.60,139.71 217.18,139.55 220.00,139.30 C222.82,139.05 224.87,138.78 227.30,138.30 C229.73,137.82 232.15,137.25 234.60,136.40 C237.05,135.55 239.80,134.30 242.00,133.20 C244.20,132.10 245.97,131.08 247.80,129.80 C249.63,128.52 251.50,126.70 253.00,125.50 C254.50,124.30 255.58,122.95 256.80,122.60 C258.02,122.25 259.12,123.33 260.30,123.40 C261.48,123.47 262.68,122.83 263.90,123.00 C265.12,123.17 266.50,123.60 267.60,124.40 C268.70,125.20 269.52,126.45 270.50,127.80 C271.48,129.15 272.40,131.13 273.50,132.50 C274.60,133.87 275.35,134.95 277.10,136.00 C278.85,137.05 280.43,138.17 284.00,138.80 C287.57,139.43 291.65,139.60 298.50,139.80 C305.35,140.00 320.67,139.97 325.10,140.00" fill="none" stroke="#f6d0d0" stroke-width="0.9" stroke-dasharray="1.1 1.6" transform="translate(0,1.15)"/>
<polygon points="221.00,190.90 221.00,190.55 221.50,190.54 222.00,190.53 222.50,190.52 223.00,190.52 223.50,190.51 224.00,190.50 224.50,190.50 225.00,190.49 225.50,190.48 226.00,190.48 226.50,190.47 227.00,190.47 227.50,190.46 228.00,190.46 228.50,190.45 229.00,190.44 229.50,190.44 230.00,190.43 230.50,190.43 231.00,190.42 231.50,190.42 232.00,190.41 232.50,190.40 233.00,190.40 233.50,190.39 234.00,190.38 234.50,190.37 235.00,190.36 235.50,190.36 236.00,190.35 236.50,190.33 237.00,190.32 237.50,190.31 238.00,190.30 238.50,190.29 239.00,190.27 239.50,190.25 240.00,190.24 240.50,190.22 241.00,190.20 241.50,190.17 242.00,190.15 242.50,190.12 243.00,190.08 243.50,190.04 244.00,190.00 244.50,189.94 245.00,189.87 245.50,189.79 246.00,189.68 246.50,189.51 247.00,189.24 247.50,188.86 248.00,188.76 248.50,188.66 249.00,188.55 249.50,188.43 250.00,188.30 250.50,188.15 251.00,188.00 251.50,187.83 252.00,187.64 252.50,187.44 253.00,187.21 253.50,186.96 254.00,186.67 254.50,183.49 255.00,183.06 255.50,182.63 256.00,182.17 256.50,181.66 257.00,181.06 257.50,180.47 258.00,179.72 258.50,178.65 259.00,177.32 259.50,175.85 260.00,174.27 260.50,172.56 261.00,170.69 261.50,168.59 262.00,166.19 262.50,164.23 263.00,162.61 263.50,161.07 264.00,159.76 264.50,158.54 265.00,156.71 265.50,154.31 266.00,152.13 266.50,150.30 267.00,148.92 267.50,148.11 268.00,147.91 268.50,148.36 269.00,149.41 269.50,150.98 270.00,152.91 270.50,154.88 271.00,156.94 271.50,158.89 272.00,160.62 272.50,162.08 273.00,163.31 273.50,164.37 274.00,165.35 274.50,167.20 275.00,169.04 275.50,170.80 276.00,172.57 276.50,174.40 277.00,176.14 277.50,177.68 278.00,179.00 278.50,180.10 279.00,181.05 279.50,181.91 280.00,182.70 280.50,183.42 281.00,184.08 281.50,184.69 282.00,186.79 282.50,187.06 283.00,187.30 283.50,187.52 284.00,187.72 284.50,187.90 285.00,188.06 285.50,188.21 286.00,188.35 286.50,188.48 287.00,188.60 287.50,188.84 288.00,189.07 288.50,189.29 289.00,189.50 289.50,189.70 290.00,189.89 290.50,190.07 291.00,190.23 291.50,190.37 292.00,190.49 292.00,190.90" fill="#0aec0a" fill-opacity="0.78"/>
<polygon points="268.00,190.90 268.00,190.39 268.50,190.10 269.00,189.70 269.50,189.18 270.00,188.51 270.50,187.71 271.00,186.82 271.50,185.90 272.00,185.00 272.50,184.21 273.00,183.60 273.50,183.21 274.00,183.09 274.50,183.22 275.00,183.57 275.50,184.10 276.00,184.87 276.50,185.83 277.00,186.80 277.50,187.71 278.00,188.51 278.50,189.18 279.00,189.70 279.50,190.10 280.00,190.39 280.00,190.90" fill="#ec0bec" fill-opacity="0.8"/>
<g fill="none" stroke="#7a4646" stroke-width="0.8"><circle cx="201.60" cy="190.45" r="2.2"/><circle cx="203.05" cy="190.98" r="2.2"/><circle cx="204.50" cy="190.73" r="2.2"/><circle cx="205.95" cy="190.81" r="2.2"/><circle cx="207.40" cy="190.37" r="2.2"/><circle cx="208.85" cy="190.34" r="2.2"/><circle cx="210.30" cy="190.78" r="2.2"/><circle cx="211.75" cy="190.58" r="2.2"/><circle cx="213.20" cy="190.33" r="2.2"/><circle cx="214.65" cy="190.92" r="2.2"/><circle cx="216.10" cy="190.70" r="2.2"/><circle cx="217.55" cy="190.80" r="2.2"/><circle cx="219.00" cy="190.28" r="2.2"/><circle cx="220.45" cy="190.80" r="2.2"/><circle cx="221.90" cy="190.23" r="2.2"/><circle cx="223.35" cy="190.76" r="2.2"/><circle cx="224.80" cy="190.46" r="2.2"/><circle cx="226.25" cy="190.36" r="2.2"/><circle cx="227.70" cy="190.50" r="2.2"/><circle cx="229.15" cy="190.74" r="2.2"/><circle cx="230.60" cy="190.26" r="2.2"/><circle cx="232.05" cy="190.15" r="2.2"/><circle cx="233.50" cy="190.41" r="2.2"/><circle cx="234.95" cy="190.18" r="2.2"/><circle cx="236.40" cy="190.06" r="2.2"/><circle cx="237.85" cy="190.07" r="2.2"/><circle cx="239.30" cy="189.95" r="2.2"/><circle cx="240.75" cy="190.00" r="2.2"/><circle cx="242.20" cy="190.00" r="2.2"/><circle cx="243.65" cy="189.89" r="2.2"/><circle cx="245.10" cy="190.04" r="2.2"/><circle cx="246.55" cy="189.35" r="2.2"/><circle cx="248.00" cy="188.00" r="2.2"/><circle cx="249.45" cy="186.88" r="2.2"/><circle cx="250.90" cy="185.97" r="2.2"/><circle cx="252.35" cy="184.62" r="2.2"/><circle cx="253.80" cy="183.60" r="2.2"/><circle cx="255.25" cy="182.20" r="2.2"/><circle cx="256.70" cy="181.29" r="2.2"/><circle cx="258.15" cy="179.16" r="2.2"/><circle cx="259.60" cy="175.02" r="2.2"/><circle cx="261.05" cy="170.18" r="2.2"/><circle cx="262.50" cy="163.57" r="2.2"/><circle cx="263.95" cy="154.28" r="2.2"/><circle cx="265.40" cy="148.87" r="2.2"/><circle cx="266.85" cy="145.91" r="2.2"/><circle cx="268.30" cy="146.01" r="2.2"/><circle cx="269.75" cy="149.98" r="2.2"/><circle cx="271.20" cy="154.45" r="2.2"/><circle cx="272.65" cy="159.89" r="2.2"/><circle cx="274.10" cy="165.52" r="2.2"/><circle cx="275.55" cy="171.01" r="2.2"/><circle cx="277.00" cy="175.73" r="2.2"/><circle cx="278.45" cy="179.93" r="2.2"/><circle cx="279.90" cy="182.39" r="2.2"/><circle cx="281.35" cy="184.31" r="2.2"/><circle cx="282.80" cy="185.69" r="2.2"/><circle cx="284.25" cy="186.86" r="2.2"/><circle cx="285.70" cy="187.59" r="2.2"/><circle cx="287.15" cy="188.41" r="2.2"/><circle cx="288.60" cy="189.03" r="2.2"/><circle cx="290.05" cy="190.08" r="2.2"/><circle cx="291.50" cy="190.20" r="2.2"/><circle cx="292.95" cy="190.41" r="2.2"/><circle cx="294.40" cy="190.49" r="2.2"/><circle cx="295.85" cy="191.13" r="2.2"/><circle cx="297.30" cy="191.26" r="2.2"/><circle cx="298.75" cy="191.19" r="2.2"/><circle cx="300.20" cy="190.97" r="2.2"/><circle cx="301.65" cy="190.97" r="2.2"/><circle cx="303.10" cy="191.03" r="2.2"/><circle cx="304.55" cy="191.17" r="2.2"/><circle cx="306.00" cy="190.98" r="2.2"/><circle cx="307.45" cy="191.20" r="2.2"/><circle cx="308.90" cy="191.09" r="2.2"/><circle cx="310.35" cy="191.60" r="2.2"/><circle cx="311.80" cy="191.62" r="2.2"/><circle cx="313.25" cy="191.33" r="2.2"/><circle cx="314.70" cy="191.13" r="2.2"/><circle cx="316.15" cy="191.65" r="2.2"/><circle cx="317.60" cy="191.20" r="2.2"/><circle cx="319.05" cy="191.25" r="2.2"/><circle cx="320.50" cy="191.01" r="2.2"/><circle cx="321.95" cy="191.29" r="2.2"/><circle cx="323.40" cy="191.37" r="2.2"/></g>
<path d="M200.80,190.70 C204.40,190.67 215.20,190.64 222.40,190.52 C229.60,190.41 239.73,190.42 244.00,190.00 C248.27,189.58 246.83,188.67 248.00,188.00 C249.17,187.33 249.90,186.82 251.00,186.00 C252.10,185.18 253.63,183.93 254.60,183.10 C255.57,182.27 256.13,181.83 256.80,181.00 C257.47,180.17 257.88,179.93 258.60,178.10 C259.32,176.27 260.35,173.02 261.10,170.00 C261.85,166.98 262.52,163.17 263.10,160.00 C263.68,156.83 264.05,153.20 264.60,151.00 C265.15,148.80 265.85,147.73 266.40,146.80 C266.95,145.87 267.28,144.73 267.90,145.40 C268.52,146.07 269.32,148.42 270.10,150.80 C270.88,153.18 271.70,156.42 272.60,159.70 C273.50,162.98 274.52,167.15 275.50,170.50 C276.48,173.85 277.18,177.17 278.50,179.80 C279.82,182.43 281.43,184.60 283.40,186.30 C285.37,188.00 288.20,189.23 290.30,190.00 C292.40,190.77 293.63,190.70 296.00,190.90 C298.37,191.10 299.65,191.12 304.50,191.20 C309.35,191.28 321.67,191.37 325.10,191.40" fill="none" stroke="#d21e1e" stroke-width="2.5" stroke-linejoin="round"/>
<path d="M200.80,190.70 C204.40,190.67 215.20,190.64 222.40,190.52 C229.60,190.41 239.73,190.42 244.00,190.00 C248.27,189.58 246.83,188.67 248.00,188.00 C249.17,187.33 249.90,186.82 251.00,186.00 C252.10,185.18 253.63,183.93 254.60,183.10 C255.57,182.27 256.13,181.83 256.80,181.00 C257.47,180.17 257.88,179.93 258.60,178.10 C259.32,176.27 260.35,173.02 261.10,170.00 C261.85,166.98 262.52,163.17 263.10,160.00 C263.68,156.83 264.05,153.20 264.60,151.00 C265.15,148.80 265.85,147.73 266.40,146.80 C266.95,145.87 267.28,144.73 267.90,145.40 C268.52,146.07 269.32,148.42 270.10,150.80 C270.88,153.18 271.70,156.42 272.60,159.70 C273.50,162.98 274.52,167.15 275.50,170.50 C276.48,173.85 277.18,177.17 278.50,179.80 C279.82,182.43 281.43,184.60 283.40,186.30 C285.37,188.00 288.20,189.23 290.30,190.00 C292.40,190.77 293.63,190.70 296.00,190.90 C298.37,191.10 299.65,191.12 304.50,191.20 C309.35,191.28 321.67,191.37 325.10,191.40" fill="none" stroke="#f6d0d0" stroke-width="0.9" stroke-dasharray="1.1 1.6" transform="translate(0,1.15)"/>
<polygon points="228.50,247.50 228.50,247.15 229.00,247.12 229.50,247.09 230.00,247.07 230.50,247.04 231.00,247.03 231.50,247.01 232.00,247.00 232.50,246.98 233.00,246.97 233.50,246.95 234.00,246.94 234.50,246.92 235.00,246.90 235.50,246.88 236.00,246.86 236.50,246.84 237.00,246.82 237.50,246.79 238.00,246.77 238.50,246.74 239.00,246.72 239.50,246.69 240.00,246.66 240.50,246.63 241.00,246.59 241.50,246.56 242.00,246.52 242.50,246.48 243.00,246.43 243.50,246.39 244.00,246.34 244.50,246.29 245.00,246.23 245.50,246.17 246.00,246.11 246.50,246.04 247.00,245.97 247.50,245.89 248.00,245.81 248.50,245.71 249.00,245.62 249.50,245.51 250.00,245.39 250.50,245.26 251.00,245.12 251.50,244.97 252.00,244.80 252.50,244.61 253.00,244.39 253.50,244.14 254.00,243.86 254.50,243.53 255.00,243.15 255.50,242.69 256.00,240.47 256.50,239.94 257.00,239.29 257.50,238.56 258.00,237.81 258.50,237.11 259.00,236.22 259.50,234.90 260.00,233.28 260.50,231.49 261.00,229.59 261.50,227.57 262.00,225.41 262.50,222.97 263.00,220.00 263.50,216.48 264.00,212.88 264.50,209.08 265.00,205.25 265.50,201.44 266.00,198.58 266.50,199.03 267.00,200.78 267.50,203.03 268.00,206.02 268.50,209.82 269.00,213.81 269.50,217.78 270.00,221.56 270.50,225.06 271.00,228.23 271.50,231.03 272.00,233.46 272.50,235.54 273.00,237.30 273.50,238.76 274.00,239.97 274.50,240.97 275.00,241.78 275.50,242.45 276.00,243.00 276.50,243.45 277.00,243.83 277.50,244.15 278.00,244.42 278.50,244.66 279.00,244.87 279.50,245.05 280.00,245.22 280.50,245.36 281.00,245.50 281.50,245.62 282.00,245.73 282.50,245.83 283.00,245.92 283.50,246.01 284.00,246.09 284.50,246.16 285.00,246.23 285.50,246.29 286.00,246.35 286.50,246.40 287.00,246.45 287.50,246.50 288.00,246.54 288.50,246.58 289.00,246.62 289.50,246.66 290.00,246.69 290.50,246.72 291.00,246.79 291.50,246.89 292.00,247.00 292.50,247.10 292.50,247.50" fill="#0aec0a" fill-opacity="0.78"/>
<polygon points="261.00,247.50 261.00,247.14 261.50,247.12 262.00,247.10 262.50,247.07 263.00,247.02 263.50,246.96 264.00,246.88 264.50,246.77 265.00,246.61 265.50,246.40 266.00,246.12 266.50,245.84 267.00,245.47 267.50,244.98 268.00,244.37 268.50,243.64 269.00,242.77 269.50,241.75 270.00,240.59 270.50,239.30 271.00,237.90 271.50,236.44 272.00,234.96 272.50,233.54 273.00,232.24 273.50,231.17 274.00,230.41 274.50,230.03 275.00,230.08 275.50,230.54 276.00,231.37 276.50,232.49 277.00,233.81 277.50,235.25 278.00,236.23 278.50,236.50 279.00,236.75 279.50,237.03 280.00,237.40 280.50,238.45 281.00,239.34 281.50,240.11 282.00,240.84 282.50,241.51 283.00,245.89 283.50,246.17 284.00,246.39 284.50,246.56 285.00,246.69 285.50,246.79 286.00,246.87 286.50,246.93 287.00,246.98 287.50,247.02 288.00,247.06 288.50,247.09 289.00,247.12 289.50,247.14 289.50,247.50" fill="#ec0bec" fill-opacity="0.8"/>
<g fill="none" stroke="#7a4646" stroke-width="0.8"><circle cx="201.60" cy="247.89" r="2.2"/><circle cx="203.05" cy="247.65" r="2.2"/><circle cx="204.50" cy="247.84" r="2.2"/><circle cx="205.95" cy="247.47" r="2.2"/><circle cx="207.40" cy="247.63" r="2.2"/><circle cx="208.85" cy="247.49" r="2.2"/><circle cx="210.30" cy="247.68" r="2.2"/><circle cx="211.75" cy="247.40" r="2.2"/><circle cx="213.20" cy="247.36" r="2.2"/><circle cx="214.65" cy="247.53" r="2.2"/><circle cx="216.10" cy="247.44" r="2.2"/><circle cx="217.55" cy="247.65" r="2.2"/><circle cx="219.00" cy="247.57" r="2.2"/><circle cx="220.45" cy="247.68" r="2.2"/><circle cx="221.90" cy="247.56" r="2.2"/><circle cx="223.35" cy="247.53" r="2.2"/><circle cx="224.80" cy="247.58" r="2.2"/><circle cx="226.25" cy="247.16" r="2.2"/><circle cx="227.70" cy="247.04" r="2.2"/><circle cx="229.15" cy="247.41" r="2.2"/><circle cx="230.60" cy="246.74" r="2.2"/><circle cx="232.05" cy="247.06" r="2.2"/><circle cx="233.50" cy="246.91" r="2.2"/><circle cx="234.95" cy="246.39" r="2.2"/><circle cx="236.40" cy="246.85" r="2.2"/><circle cx="237.85" cy="246.78" r="2.2"/><circle cx="239.30" cy="246.49" r="2.2"/><circle cx="240.75" cy="246.45" r="2.2"/><circle cx="242.20" cy="246.39" r="2.2"/><circle cx="243.65" cy="245.78" r="2.2"/><circle cx="245.10" cy="245.89" r="2.2"/><circle cx="246.55" cy="245.44" r="2.2"/><circle cx="248.00" cy="244.71" r="2.2"/><circle cx="249.45" cy="244.11" r="2.2"/><circle cx="250.90" cy="243.48" r="2.2"/><circle cx="252.35" cy="242.59" r="2.2"/><circle cx="253.80" cy="242.02" r="2.2"/><circle cx="255.25" cy="240.94" r="2.2"/><circle cx="256.70" cy="239.53" r="2.2"/><circle cx="258.15" cy="237.11" r="2.2"/><circle cx="259.60" cy="233.97" r="2.2"/><circle cx="261.05" cy="228.84" r="2.2"/><circle cx="262.50" cy="222.57" r="2.2"/><circle cx="263.95" cy="212.56" r="2.2"/><circle cx="265.40" cy="201.56" r="2.2"/><circle cx="266.85" cy="198.32" r="2.2"/><circle cx="268.30" cy="203.37" r="2.2"/><circle cx="269.75" cy="208.00" r="2.2"/><circle cx="271.20" cy="212.49" r="2.2"/><circle cx="272.65" cy="215.90" r="2.2"/><circle cx="274.10" cy="218.70" r="2.2"/><circle cx="275.55" cy="223.46" r="2.2"/><circle cx="277.00" cy="228.49" r="2.2"/><circle cx="278.45" cy="232.84" r="2.2"/><circle cx="279.90" cy="236.90" r="2.2"/><circle cx="281.35" cy="239.70" r="2.2"/><circle cx="282.80" cy="241.27" r="2.2"/><circle cx="284.25" cy="243.23" r="2.2"/><circle cx="285.70" cy="243.99" r="2.2"/><circle cx="287.15" cy="244.70" r="2.2"/><circle cx="288.60" cy="245.48" r="2.2"/><circle cx="290.05" cy="246.35" r="2.2"/><circle cx="291.50" cy="246.45" r="2.2"/><circle cx="292.95" cy="247.24" r="2.2"/><circle cx="294.40" cy="247.77" r="2.2"/><circle cx="295.85" cy="247.76" r="2.2"/><circle cx="297.30" cy="247.97" r="2.2"/><circle cx="298.75" cy="248.22" r="2.2"/><circle cx="300.20" cy="248.44" r="2.2"/><circle cx="301.65" cy="248.53" r="2.2"/><circle cx="303.10" cy="248.45" r="2.2"/><circle cx="304.55" cy="248.50" r="2.2"/><circle cx="306.00" cy="248.14" r="2.2"/><circle cx="307.45" cy="248.21" r="2.2"/><circle cx="308.90" cy="248.31" r="2.2"/><circle cx="310.35" cy="248.66" r="2.2"/><circle cx="311.80" cy="248.37" r="2.2"/><circle cx="313.25" cy="248.57" r="2.2"/><circle cx="314.70" cy="248.19" r="2.2"/><circle cx="316.15" cy="248.24" r="2.2"/><circle cx="317.60" cy="248.39" r="2.2"/><circle cx="319.05" cy="248.68" r="2.2"/><circle cx="320.50" cy="248.70" r="2.2"/><circle cx="321.95" cy="248.70" r="2.2"/><circle cx="323.40" cy="248.44" r="2.2"/></g>
<path d="M200.80,247.90 C204.40,247.82 215.20,247.74 222.40,247.43 C229.60,247.11 239.92,246.42 244.00,246.00 C248.08,245.58 245.73,245.37 246.90,244.90 C248.07,244.43 249.58,243.90 251.00,243.20 C252.42,242.50 254.27,241.60 255.40,240.70 C256.53,239.80 257.10,238.87 257.80,237.80 C258.50,236.73 258.85,236.65 259.60,234.30 C260.35,231.95 261.58,227.22 262.30,223.70 C263.02,220.18 263.42,216.65 263.90,213.20 C264.38,209.75 264.82,205.70 265.20,203.00 C265.58,200.30 265.67,196.90 266.20,197.00 C266.73,197.10 267.52,200.90 268.40,203.60 C269.28,206.30 270.45,210.37 271.50,213.20 C272.55,216.03 273.63,217.60 274.70,220.60 C275.77,223.60 276.83,228.10 277.90,231.20 C278.97,234.30 279.68,236.97 281.10,239.20 C282.52,241.43 283.92,243.17 286.40,244.60 C288.88,246.03 292.98,247.17 296.00,247.80 C299.02,248.43 299.65,248.27 304.50,248.40 C309.35,248.53 321.67,248.57 325.10,248.60" fill="none" stroke="#d21e1e" stroke-width="2.5" stroke-linejoin="round"/>
<path d="M200.80,247.90 C204.40,247.82 215.20,247.74 222.40,247.43 C229.60,247.11 239.92,246.42 244.00,246.00 C248.08,245.58 245.73,245.37 246.90,244.90 C248.07,244.43 249.58,243.90 251.00,243.20 C252.42,242.50 254.27,241.60 255.40,240.70 C256.53,239.80 257.10,238.87 257.80,237.80 C258.50,236.73 258.85,236.65 259.60,234.30 C260.35,231.95 261.58,227.22 262.30,223.70 C263.02,220.18 263.42,216.65 263.90,213.20 C264.38,209.75 264.82,205.70 265.20,203.00 C265.58,200.30 265.67,196.90 266.20,197.00 C266.73,197.10 267.52,200.90 268.40,203.60 C269.28,206.30 270.45,210.37 271.50,213.20 C272.55,216.03 273.63,217.60 274.70,220.60 C275.77,223.60 276.83,228.10 277.90,231.20 C278.97,234.30 279.68,236.97 281.10,239.20 C282.52,241.43 283.92,243.17 286.40,244.60 C288.88,246.03 292.98,247.17 296.00,247.80 C299.02,248.43 299.65,248.27 304.50,248.40 C309.35,248.53 321.67,248.57 325.10,248.60" fill="none" stroke="#f6d0d0" stroke-width="0.9" stroke-dasharray="1.1 1.6" transform="translate(0,1.15)"/>
<polygon points="246.50,297.30 246.50,296.94 247.00,296.93 247.50,296.91 248.00,296.89 248.50,296.87 249.00,296.85 249.50,296.82 250.00,296.80 250.50,296.77 251.00,296.74 251.50,296.70 252.00,296.67 252.50,296.63 253.00,296.58 253.50,296.54 254.00,296.48 254.50,296.43 255.00,296.36 255.50,296.29 256.00,296.21 256.50,296.12 257.00,296.01 257.50,295.89 258.00,295.75 258.50,295.57 259.00,295.36 259.50,295.10 260.00,294.77 260.50,294.35 261.00,293.82 261.50,293.15 262.00,292.30 262.50,291.26 263.00,289.99 263.50,288.47 264.00,286.70 264.50,284.70 265.00,282.50 265.50,280.16 266.00,277.81 266.50,275.61 267.00,273.77 267.50,272.54 268.00,272.10 268.50,272.26 269.00,272.74 269.50,273.51 270.00,274.51 270.50,275.70 271.00,277.02 271.50,278.42 272.00,279.85 272.50,280.64 273.00,280.88 273.50,281.18 274.00,281.51 274.50,281.84 275.00,282.15 275.50,282.46 276.00,283.48 276.50,284.51 277.00,285.48 277.50,286.40 278.00,287.26 278.50,288.05 279.00,288.79 279.50,289.48 280.00,290.14 280.50,290.75 281.00,291.34 281.50,294.92 282.00,295.11 282.50,295.28 283.00,295.42 283.50,295.55 284.00,295.66 284.50,295.76 285.00,295.85 285.50,295.93 286.00,296.00 286.50,296.07 287.00,296.13 287.50,296.19 288.00,296.24 288.50,296.29 289.00,296.33 289.50,296.37 290.00,296.41 290.50,296.45 291.00,296.48 291.50,296.52 292.00,296.55 292.50,296.58 293.00,296.60 293.50,296.63 294.00,296.65 294.50,296.68 295.00,296.70 295.50,296.72 296.00,296.74 296.50,296.76 297.00,296.78 297.50,296.79 298.00,296.81 298.50,296.82 299.00,296.84 299.50,296.85 300.00,296.87 300.50,296.88 301.00,296.89 301.50,296.90 302.00,296.91 302.50,296.93 303.00,296.94 303.50,296.95 303.50,297.30" fill="#ec0bec" fill-opacity="0.8"/>
<polygon points="230.50,297.30 230.50,296.95 231.00,296.93 231.50,296.92 232.00,296.91 232.50,296.90 233.00,296.88 233.50,296.87 234.00,296.85 234.50,296.84 235.00,296.82 235.50,296.80 236.00,296.78 236.50,296.76 237.00,296.74 237.50,296.72 238.00,296.69 238.50,296.66 239.00,296.64 239.50,296.61 240.00,296.58 240.50,296.54 241.00,296.51 241.50,296.47 242.00,296.43 242.50,296.38 243.00,296.33 243.50,296.28 244.00,296.23 244.50,296.16 245.00,296.10 245.50,296.03 246.00,295.95 246.50,295.86 247.00,295.77 247.50,295.66 248.00,295.54 248.50,295.41 249.00,295.26 249.50,295.09 250.00,294.88 250.50,294.65 251.00,294.37 251.50,290.30 252.00,289.79 252.50,289.21 253.00,288.54 253.50,287.80 254.00,287.11 254.50,286.33 255.00,285.10 255.50,283.47 256.00,281.65 256.50,279.68 257.00,277.94 257.50,276.58 258.00,275.21 258.50,274.33 259.00,272.64 259.50,270.32 260.00,268.29 260.50,266.71 261.00,265.75 261.50,265.53 262.00,266.43 262.50,268.43 263.00,271.19 263.50,274.32 264.00,277.50 264.50,280.54 265.00,283.30 265.50,285.72 266.00,287.77 266.50,289.48 267.00,290.87 267.50,291.97 268.00,292.85 268.50,293.53 269.00,294.06 269.50,294.48 270.00,294.82 270.50,295.09 271.00,295.31 271.50,295.49 272.00,295.65 272.50,295.79 273.00,295.91 273.50,296.02 274.00,296.11 274.50,296.19 275.00,296.27 275.50,296.34 276.00,296.40 276.50,296.46 277.00,296.51 277.50,296.55 278.00,296.60 278.50,296.63 279.00,296.67 279.50,296.70 280.00,296.73 280.50,296.76 281.00,296.79 281.50,296.81 282.00,296.84 282.50,296.86 283.00,296.88 283.50,296.90 284.00,296.91 284.50,296.93 285.00,296.94 285.00,297.30" fill="#0aec0a" fill-opacity="0.78"/>
<g fill="none" stroke="#7a4646" stroke-width="0.8"><circle cx="201.60" cy="297.20" r="2.2"/><circle cx="203.05" cy="297.14" r="2.2"/><circle cx="204.50" cy="297.12" r="2.2"/><circle cx="205.95" cy="296.86" r="2.2"/><circle cx="207.40" cy="297.38" r="2.2"/><circle cx="208.85" cy="296.87" r="2.2"/><circle cx="210.30" cy="297.39" r="2.2"/><circle cx="211.75" cy="297.34" r="2.2"/><circle cx="213.20" cy="296.67" r="2.2"/><circle cx="214.65" cy="296.95" r="2.2"/><circle cx="216.10" cy="297.16" r="2.2"/><circle cx="217.55" cy="297.23" r="2.2"/><circle cx="219.00" cy="296.82" r="2.2"/><circle cx="220.45" cy="296.64" r="2.2"/><circle cx="221.90" cy="296.53" r="2.2"/><circle cx="223.35" cy="296.99" r="2.2"/><circle cx="224.80" cy="296.41" r="2.2"/><circle cx="226.25" cy="296.60" r="2.2"/><circle cx="227.70" cy="296.22" r="2.2"/><circle cx="229.15" cy="296.42" r="2.2"/><circle cx="230.60" cy="296.64" r="2.2"/><circle cx="232.05" cy="295.98" r="2.2"/><circle cx="233.50" cy="296.37" r="2.2"/><circle cx="234.95" cy="296.06" r="2.2"/><circle cx="236.40" cy="296.22" r="2.2"/><circle cx="237.85" cy="295.97" r="2.2"/><circle cx="239.30" cy="295.49" r="2.2"/><circle cx="240.75" cy="295.77" r="2.2"/><circle cx="242.20" cy="295.19" r="2.2"/><circle cx="243.65" cy="294.28" r="2.2"/><circle cx="245.10" cy="293.35" r="2.2"/><circle cx="246.55" cy="293.12" r="2.2"/><circle cx="248.00" cy="292.44" r="2.2"/><circle cx="249.45" cy="291.47" r="2.2"/><circle cx="250.90" cy="290.28" r="2.2"/><circle cx="252.35" cy="288.99" r="2.2"/><circle cx="253.80" cy="286.95" r="2.2"/><circle cx="255.25" cy="284.26" r="2.2"/><circle cx="256.70" cy="278.20" r="2.2"/><circle cx="258.15" cy="271.08" r="2.2"/><circle cx="259.60" cy="260.95" r="2.2"/><circle cx="261.05" cy="253.50" r="2.2"/><circle cx="262.50" cy="255.31" r="2.2"/><circle cx="263.95" cy="257.99" r="2.2"/><circle cx="265.40" cy="259.77" r="2.2"/><circle cx="266.85" cy="260.94" r="2.2"/><circle cx="268.30" cy="262.48" r="2.2"/><circle cx="269.75" cy="265.08" r="2.2"/><circle cx="271.20" cy="270.35" r="2.2"/><circle cx="272.65" cy="274.75" r="2.2"/><circle cx="274.10" cy="278.77" r="2.2"/><circle cx="275.55" cy="282.17" r="2.2"/><circle cx="277.00" cy="285.02" r="2.2"/><circle cx="278.45" cy="287.36" r="2.2"/><circle cx="279.90" cy="289.43" r="2.2"/><circle cx="281.35" cy="291.66" r="2.2"/><circle cx="282.80" cy="292.70" r="2.2"/><circle cx="284.25" cy="294.31" r="2.2"/><circle cx="285.70" cy="294.67" r="2.2"/><circle cx="287.15" cy="295.21" r="2.2"/><circle cx="288.60" cy="295.74" r="2.2"/><circle cx="290.05" cy="295.75" r="2.2"/><circle cx="291.50" cy="296.03" r="2.2"/><circle cx="292.95" cy="296.55" r="2.2"/><circle cx="294.40" cy="296.58" r="2.2"/><circle cx="295.85" cy="296.61" r="2.2"/><circle cx="297.30" cy="296.55" r="2.2"/><circle cx="298.75" cy="296.77" r="2.2"/><circle cx="300.20" cy="296.79" r="2.2"/><circle cx="301.65" cy="296.52" r="2.2"/><circle cx="303.10" cy="296.64" r="2.2"/><circle cx="304.55" cy="296.19" r="2.2"/><circle cx="306.00" cy="296.68" r="2.2"/><circle cx="307.45" cy="296.50" r="2.2"/><circle cx="308.90" cy="296.72" r="2.2"/><circle cx="310.35" cy="296.66" r="2.2"/><circle cx="311.80" cy="296.42" r="2.2"/><circle cx="313.25" cy="296.27" r="2.2"/><circle cx="314.70" cy="296.90" r="2.2"/><circle cx="316.15" cy="296.35" r="2.2"/><circle cx="317.60" cy="296.61" r="2.2"/><circle cx="319.05" cy="296.53" r="2.2"/><circle cx="320.50" cy="296.51" r="2.2"/><circle cx="321.95" cy="296.84" r="2.2"/><circle cx="323.40" cy="297.02" r="2.2"/></g>
<path d="M200.80,297.20 C204.07,297.13 213.87,297.07 220.40,296.80 C226.93,296.53 235.88,296.12 240.00,295.60 C244.12,295.08 243.68,294.27 245.10,293.70 C246.52,293.13 247.43,292.82 248.50,292.20 C249.57,291.58 250.67,290.78 251.50,290.00 C252.33,289.22 252.90,288.42 253.50,287.50 C254.10,286.58 254.45,286.52 255.10,284.50 C255.75,282.48 256.78,278.43 257.40,275.40 C258.02,272.37 258.33,269.35 258.80,266.30 C259.27,263.25 259.75,259.25 260.20,257.10 C260.65,254.95 260.92,253.33 261.50,253.40 C262.08,253.47 262.85,256.27 263.70,257.50 C264.55,258.73 265.65,259.67 266.60,260.80 C267.55,261.93 268.53,262.43 269.40,264.30 C270.27,266.17 270.97,269.45 271.80,272.00 C272.63,274.55 273.30,277.00 274.40,279.60 C275.50,282.20 276.93,285.33 278.40,287.60 C279.87,289.87 281.60,291.87 283.20,293.20 C284.80,294.53 285.87,295.07 288.00,295.60 C290.13,296.13 293.25,296.25 296.00,296.40 C298.75,296.55 299.65,296.45 304.50,296.50 C309.35,296.55 321.67,296.67 325.10,296.70" fill="none" stroke="#d21e1e" stroke-width="2.5" stroke-linejoin="round"/>
<path d="M200.80,297.20 C204.07,297.13 213.87,297.07 220.40,296.80 C226.93,296.53 235.88,296.12 240.00,295.60 C244.12,295.08 243.68,294.27 245.10,293.70 C246.52,293.13 247.43,292.82 248.50,292.20 C249.57,291.58 250.67,290.78 251.50,290.00 C252.33,289.22 252.90,288.42 253.50,287.50 C254.10,286.58 254.45,286.52 255.10,284.50 C255.75,282.48 256.78,278.43 257.40,275.40 C258.02,272.37 258.33,269.35 258.80,266.30 C259.27,263.25 259.75,259.25 260.20,257.10 C260.65,254.95 260.92,253.33 261.50,253.40 C262.08,253.47 262.85,256.27 263.70,257.50 C264.55,258.73 265.65,259.67 266.60,260.80 C267.55,261.93 268.53,262.43 269.40,264.30 C270.27,266.17 270.97,269.45 271.80,272.00 C272.63,274.55 273.30,277.00 274.40,279.60 C275.50,282.20 276.93,285.33 278.40,287.60 C279.87,289.87 281.60,291.87 283.20,293.20 C284.80,294.53 285.87,295.07 288.00,295.60 C290.13,296.13 293.25,296.25 296.00,296.40 C298.75,296.55 299.65,296.45 304.50,296.50 C309.35,296.55 321.67,296.67 325.10,296.70" fill="none" stroke="#f6d0d0" stroke-width="0.9" stroke-dasharray="1.1 1.6" transform="translate(0,1.15)"/>
<polygon points="246.50,345.20 246.50,344.84 247.00,344.83 247.50,344.81 248.00,344.79 248.50,344.77 249.00,344.75 249.50,344.72 250.00,344.70 250.50,344.67 251.00,344.64 251.50,344.60 252.00,344.57 252.50,344.53 253.00,344.48 253.50,344.44 254.00,344.38 254.50,344.33 255.00,344.26 255.50,344.19 256.00,344.11 256.50,344.02 257.00,343.91 257.50,343.79 258.00,343.65 258.50,343.47 259.00,343.26 259.50,343.00 260.00,342.67 260.50,342.25 261.00,341.72 261.50,341.05 262.00,340.20 262.50,339.16 263.00,337.89 263.50,336.37 264.00,334.60 264.50,332.60 265.00,330.40 265.50,328.06 266.00,325.71 266.50,323.51 267.00,321.67 267.50,320.44 268.00,320.00 268.50,320.15 269.00,320.59 269.50,321.30 270.00,322.23 270.50,323.34 271.00,324.58 271.50,325.90 272.00,326.64 272.50,327.31 273.00,327.99 273.50,328.66 274.00,329.31 274.50,329.97 275.00,330.86 275.50,332.06 276.00,333.16 276.50,334.15 277.00,335.05 277.50,335.91 278.00,336.72 278.50,337.49 279.00,338.20 279.50,338.86 280.00,339.46 280.50,340.00 281.00,340.49 281.50,340.93 282.00,342.79 282.50,342.98 283.00,343.14 283.50,343.28 284.00,343.41 284.50,343.52 285.00,343.62 285.50,343.71 286.00,343.86 286.50,344.03 287.00,344.18 287.50,344.32 288.00,344.44 288.50,344.53 289.00,344.61 289.50,344.68 290.00,344.73 290.50,344.78 291.00,344.82 291.00,345.20" fill="#ec0bec" fill-opacity="0.8"/>
<polygon points="221.00,345.20 221.00,344.84 221.50,344.84 222.00,344.83 222.50,344.82 223.00,344.81 223.50,344.80 224.00,344.79 224.50,344.77 225.00,344.76 225.50,344.75 226.00,344.74 226.50,344.72 227.00,344.71 227.50,344.70 228.00,344.68 228.50,344.66 229.00,344.65 229.50,344.63 230.00,344.61 230.50,344.59 231.00,344.57 231.50,344.55 232.00,344.53 232.50,344.51 233.00,344.48 233.50,344.46 234.00,344.43 234.50,344.40 235.00,344.37 235.50,344.34 236.00,344.31 236.50,344.27 237.00,344.23 237.50,344.19 238.00,344.15 238.50,344.10 239.00,344.06 239.50,344.00 240.00,343.95 240.50,343.89 241.00,343.83 241.50,343.76 242.00,343.69 242.50,343.61 243.00,343.52 243.50,343.42 244.00,343.32 244.50,343.20 245.00,343.08 245.50,342.93 246.00,342.77 246.50,342.59 247.00,342.38 247.50,342.14 248.00,339.49 248.50,339.15 249.00,338.78 249.50,338.38 250.00,337.91 250.50,337.38 251.00,336.77 251.50,336.10 252.00,335.39 252.50,334.70 253.00,334.10 253.50,333.39 254.00,332.34 254.50,330.87 255.00,329.11 255.50,327.16 256.00,325.25 256.50,323.40 257.00,321.68 257.50,320.59 258.00,319.13 258.50,317.49 259.00,316.08 259.50,314.96 260.00,314.22 260.50,313.91 261.00,314.17 261.50,315.24 262.00,316.97 262.50,319.17 263.00,321.64 263.50,324.19 264.00,326.71 264.50,329.09 265.00,331.29 265.50,333.27 266.00,335.01 266.50,336.51 267.00,337.80 267.50,338.88 268.00,339.79 268.50,340.53 269.00,341.14 269.50,341.64 270.00,342.05 270.50,342.39 271.00,342.66 271.50,342.90 272.00,343.10 272.50,343.27 273.00,343.41 273.50,343.54 274.00,343.66 274.50,343.76 275.00,343.85 275.50,343.94 276.00,344.01 276.50,344.08 277.00,344.15 277.50,344.20 278.00,344.26 278.50,344.31 279.00,344.35 279.50,344.39 280.00,344.43 280.50,344.47 281.00,344.50 281.50,344.54 282.00,344.57 282.50,344.59 283.00,344.62 283.50,344.64 284.00,344.67 284.50,344.69 285.00,344.71 285.50,344.73 286.00,344.77 286.50,344.82 286.50,345.20" fill="#0aec0a" fill-opacity="0.78"/>
<polygon points="257.00,345.20 257.00,344.70 257.50,343.84 258.00,342.25 258.50,340.07 259.00,338.04 259.50,337.20 260.00,338.04 260.50,340.07 261.00,342.25 261.50,343.84 262.00,344.70 262.00,345.20" fill="#0e26e2" fill-opacity="0.85"/>
<g fill="none" stroke="#7a4646" stroke-width="0.8"><circle cx="201.60" cy="344.02" r="2.2"/><circle cx="203.05" cy="344.29" r="2.2"/><circle cx="204.50" cy="344.03" r="2.2"/><circle cx="205.95" cy="344.19" r="2.2"/><circle cx="207.40" cy="344.07" r="2.2"/><circle cx="208.85" cy="343.89" r="2.2"/><circle cx="210.30" cy="343.88" r="2.2"/><circle cx="211.75" cy="343.89" r="2.2"/><circle cx="213.20" cy="344.36" r="2.2"/><circle cx="214.65" cy="344.06" r="2.2"/><circle cx="216.10" cy="343.84" r="2.2"/><circle cx="217.55" cy="344.30" r="2.2"/><circle cx="219.00" cy="344.33" r="2.2"/><circle cx="220.45" cy="343.91" r="2.2"/><circle cx="221.90" cy="343.66" r="2.2"/><circle cx="223.35" cy="343.66" r="2.2"/><circle cx="224.80" cy="343.55" r="2.2"/><circle cx="226.25" cy="343.68" r="2.2"/><circle cx="227.70" cy="343.46" r="2.2"/><circle cx="229.15" cy="343.52" r="2.2"/><circle cx="230.60" cy="343.49" r="2.2"/><circle cx="232.05" cy="343.66" r="2.2"/><circle cx="233.50" cy="343.82" r="2.2"/><circle cx="234.95" cy="343.67" r="2.2"/><circle cx="236.40" cy="343.37" r="2.2"/><circle cx="237.85" cy="343.29" r="2.2"/><circle cx="239.30" cy="343.27" r="2.2"/><circle cx="240.75" cy="343.04" r="2.2"/><circle cx="242.20" cy="342.54" r="2.2"/><circle cx="243.65" cy="341.17" r="2.2"/><circle cx="245.10" cy="340.70" r="2.2"/><circle cx="246.55" cy="340.41" r="2.2"/><circle cx="248.00" cy="338.93" r="2.2"/><circle cx="249.45" cy="338.12" r="2.2"/><circle cx="250.90" cy="336.69" r="2.2"/><circle cx="252.35" cy="334.85" r="2.2"/><circle cx="253.80" cy="332.31" r="2.2"/><circle cx="255.25" cy="327.70" r="2.2"/><circle cx="256.70" cy="321.19" r="2.2"/><circle cx="258.15" cy="311.18" r="2.2"/><circle cx="259.60" cy="303.09" r="2.2"/><circle cx="261.05" cy="304.77" r="2.2"/><circle cx="262.50" cy="306.84" r="2.2"/><circle cx="263.95" cy="307.73" r="2.2"/><circle cx="265.40" cy="306.93" r="2.2"/><circle cx="266.85" cy="305.56" r="2.2"/><circle cx="268.30" cy="308.13" r="2.2"/><circle cx="269.75" cy="314.20" r="2.2"/><circle cx="271.20" cy="319.98" r="2.2"/><circle cx="272.65" cy="324.45" r="2.2"/><circle cx="274.10" cy="327.91" r="2.2"/><circle cx="275.55" cy="331.80" r="2.2"/><circle cx="277.00" cy="335.05" r="2.2"/><circle cx="278.45" cy="337.34" r="2.2"/><circle cx="279.90" cy="339.29" r="2.2"/><circle cx="281.35" cy="340.83" r="2.2"/><circle cx="282.80" cy="341.44" r="2.2"/><circle cx="284.25" cy="342.25" r="2.2"/><circle cx="285.70" cy="343.04" r="2.2"/><circle cx="287.15" cy="343.91" r="2.2"/><circle cx="288.60" cy="344.45" r="2.2"/><circle cx="290.05" cy="344.88" r="2.2"/><circle cx="291.50" cy="344.90" r="2.2"/><circle cx="292.95" cy="345.00" r="2.2"/><circle cx="294.40" cy="345.22" r="2.2"/><circle cx="295.85" cy="345.11" r="2.2"/><circle cx="297.30" cy="345.26" r="2.2"/><circle cx="298.75" cy="344.96" r="2.2"/><circle cx="300.20" cy="345.53" r="2.2"/><circle cx="301.65" cy="345.19" r="2.2"/><circle cx="303.10" cy="345.71" r="2.2"/><circle cx="304.55" cy="345.54" r="2.2"/><circle cx="306.00" cy="345.32" r="2.2"/><circle cx="307.45" cy="345.22" r="2.2"/><circle cx="308.90" cy="345.32" r="2.2"/><circle cx="310.35" cy="345.60" r="2.2"/><circle cx="311.80" cy="345.66" r="2.2"/><circle cx="313.25" cy="345.26" r="2.2"/><circle cx="314.70" cy="345.24" r="2.2"/><circle cx="316.15" cy="345.57" r="2.2"/><circle cx="317.60" cy="345.61" r="2.2"/><circle cx="319.05" cy="345.49" r="2.2"/><circle cx="320.50" cy="345.38" r="2.2"/><circle cx="321.95" cy="345.65" r="2.2"/><circle cx="323.40" cy="345.25" r="2.2"/></g>
<path d="M200.80,344.20 C204.07,344.16 213.87,344.12 220.40,343.95 C226.93,343.78 236.33,343.52 240.00,343.20 C243.67,342.88 241.40,342.47 242.40,342.00 C243.40,341.53 244.78,341.08 246.00,340.40 C247.22,339.72 248.67,338.83 249.70,337.90 C250.73,336.97 251.45,335.87 252.20,334.80 C252.95,333.73 253.48,333.57 254.20,331.50 C254.92,329.43 255.88,325.43 256.50,322.40 C257.12,319.37 257.52,316.07 257.90,313.30 C258.28,310.53 258.47,307.50 258.80,305.80 C259.13,304.10 259.23,302.92 259.90,303.10 C260.57,303.28 261.93,306.18 262.80,306.90 C263.67,307.62 264.32,307.55 265.10,307.40 C265.88,307.25 266.78,305.15 267.50,306.00 C268.22,306.85 268.78,310.17 269.40,312.50 C270.02,314.83 270.43,317.42 271.20,320.00 C271.97,322.58 273.07,325.60 274.00,328.00 C274.93,330.40 275.67,332.40 276.80,334.40 C277.93,336.40 279.20,338.47 280.80,340.00 C282.40,341.53 284.53,342.80 286.40,343.60 C288.27,344.40 289.32,344.50 292.00,344.80 C294.68,345.10 296.98,345.27 302.50,345.40 C308.02,345.53 321.33,345.57 325.10,345.60" fill="none" stroke="#d21e1e" stroke-width="2.5" stroke-linejoin="round"/>
<path d="M200.80,344.20 C204.07,344.16 213.87,344.12 220.40,343.95 C226.93,343.78 236.33,343.52 240.00,343.20 C243.67,342.88 241.40,342.47 242.40,342.00 C243.40,341.53 244.78,341.08 246.00,340.40 C247.22,339.72 248.67,338.83 249.70,337.90 C250.73,336.97 251.45,335.87 252.20,334.80 C252.95,333.73 253.48,333.57 254.20,331.50 C254.92,329.43 255.88,325.43 256.50,322.40 C257.12,319.37 257.52,316.07 257.90,313.30 C258.28,310.53 258.47,307.50 258.80,305.80 C259.13,304.10 259.23,302.92 259.90,303.10 C260.57,303.28 261.93,306.18 262.80,306.90 C263.67,307.62 264.32,307.55 265.10,307.40 C265.88,307.25 266.78,305.15 267.50,306.00 C268.22,306.85 268.78,310.17 269.40,312.50 C270.02,314.83 270.43,317.42 271.20,320.00 C271.97,322.58 273.07,325.60 274.00,328.00 C274.93,330.40 275.67,332.40 276.80,334.40 C277.93,336.40 279.20,338.47 280.80,340.00 C282.40,341.53 284.53,342.80 286.40,343.60 C288.27,344.40 289.32,344.50 292.00,344.80 C294.68,345.10 296.98,345.27 302.50,345.40 C308.02,345.53 321.33,345.57 325.10,345.60" fill="none" stroke="#f6d0d0" stroke-width="0.9" stroke-dasharray="1.1 1.6" transform="translate(0,1.15)"/>
<polygon points="248.50,390.20 248.50,389.84 249.00,389.82 249.50,389.80 250.00,389.78 250.50,389.75 251.00,389.73 251.50,389.70 252.00,389.66 252.50,389.63 253.00,389.59 253.50,389.54 254.00,389.50 254.50,389.44 255.00,389.38 255.50,389.31 256.00,389.24 256.50,389.15 257.00,389.05 257.50,388.93 258.00,388.79 258.50,388.62 259.00,388.42 259.50,388.16 260.00,387.83 260.50,387.40 261.00,386.84 261.50,386.11 262.00,385.16 262.50,383.97 263.00,382.48 263.50,380.69 264.00,378.60 264.50,376.25 265.00,373.74 265.50,371.26 266.00,369.08 266.50,367.55 267.00,367.00 267.50,367.14 268.00,367.55 268.50,368.21 269.00,369.08 269.50,370.11 270.00,371.08 270.50,371.99 271.00,372.94 271.50,373.91 272.00,374.88 272.50,375.82 273.00,376.74 273.50,377.80 274.00,378.76 274.50,379.64 275.00,380.45 275.50,381.20 276.00,381.90 276.50,382.56 277.00,383.18 277.50,383.77 278.00,384.32 278.50,384.83 279.00,385.30 279.50,385.75 280.00,386.18 280.50,386.57 281.00,386.92 281.50,388.00 282.00,388.16 282.50,388.30 283.00,388.42 283.50,388.53 284.00,388.62 284.50,388.76 285.00,388.91 285.50,389.03 286.00,389.14 286.50,389.23 287.00,389.31 287.50,389.38 288.00,389.44 288.50,389.49 289.00,389.54 289.50,389.58 290.00,389.62 290.50,389.65 291.00,389.69 291.50,389.71 292.00,389.74 292.50,389.76 293.00,389.79 293.50,389.81 294.00,389.82 294.50,389.84 294.50,390.20" fill="#ec0bec" fill-opacity="0.8"/>
<polygon points="225.50,390.20 225.50,389.85 226.00,389.84 226.50,389.83 227.00,389.82 227.50,389.81 228.00,389.79 228.50,389.78 229.00,389.77 229.50,389.75 230.00,389.74 230.50,389.72 231.00,389.71 231.50,389.69 232.00,389.67 232.50,389.65 233.00,389.63 233.50,389.61 234.00,389.59 234.50,389.56 235.00,389.54 235.50,389.51 236.00,389.48 236.50,389.45 237.00,389.42 237.50,389.39 238.00,389.35 238.50,389.31 239.00,389.27 239.50,389.23 240.00,389.18 240.50,389.13 241.00,389.07 241.50,389.01 242.00,388.94 242.50,388.87 243.00,388.79 243.50,388.70 244.00,388.59 244.50,388.48 245.00,388.35 245.50,388.20 246.00,388.02 246.50,387.82 247.00,384.79 247.50,384.30 248.00,383.75 248.50,383.15 249.00,382.49 249.50,381.74 250.00,380.85 250.50,379.79 251.00,378.44 251.50,376.68 252.00,375.53 252.50,375.93 253.00,377.47 253.50,378.63 254.00,377.32 254.50,375.93 255.00,374.49 255.50,373.02 256.00,371.55 256.50,370.12 257.00,368.79 257.50,367.61 258.00,366.64 258.50,365.94 259.00,365.56 259.50,365.54 260.00,366.01 260.50,366.94 261.00,368.24 261.50,369.82 262.00,371.55 262.50,373.35 263.00,375.14 263.50,376.86 264.00,378.48 264.50,379.98 265.00,381.33 265.50,382.53 266.00,383.59 266.50,384.50 267.00,385.28 267.50,385.94 268.00,386.50 268.50,386.96 269.00,387.35 269.50,387.67 270.00,387.94 270.50,388.16 271.00,388.35 271.50,388.50 272.00,388.64 272.50,388.76 273.00,388.86 273.50,388.95 274.00,389.03 274.50,389.10 275.00,389.17 275.50,389.23 276.00,389.28 276.50,389.33 277.00,389.37 277.50,389.42 278.00,389.46 278.50,389.49 279.00,389.53 279.50,389.56 280.00,389.59 280.50,389.61 281.00,389.64 281.50,389.66 282.00,389.69 282.50,389.71 283.00,389.73 283.50,389.75 284.00,389.76 284.50,389.79 285.00,389.83 285.00,390.20" fill="#0aec0a" fill-opacity="0.78"/>
<polygon points="253.50,390.20 253.50,389.69 254.00,388.85 254.50,387.21 255.00,384.65 255.50,381.56 256.00,378.94 256.50,377.90 257.00,378.94 257.50,381.56 258.00,384.65 258.50,387.21 259.00,388.85 259.50,389.69 259.50,390.20" fill="#0e26e2" fill-opacity="0.85"/>
<g fill="none" stroke="#7a4646" stroke-width="0.8"><circle cx="201.60" cy="389.95" r="2.2"/><circle cx="203.05" cy="390.04" r="2.2"/><circle cx="204.50" cy="390.37" r="2.2"/><circle cx="205.95" cy="390.13" r="2.2"/><circle cx="207.40" cy="390.27" r="2.2"/><circle cx="208.85" cy="389.97" r="2.2"/><circle cx="210.30" cy="389.77" r="2.2"/><circle cx="211.75" cy="389.76" r="2.2"/><circle cx="213.20" cy="390.23" r="2.2"/><circle cx="214.65" cy="390.02" r="2.2"/><circle cx="216.10" cy="389.70" r="2.2"/><circle cx="217.55" cy="389.46" r="2.2"/><circle cx="219.00" cy="389.74" r="2.2"/><circle cx="220.45" cy="389.80" r="2.2"/><circle cx="221.90" cy="389.56" r="2.2"/><circle cx="223.35" cy="389.38" r="2.2"/><circle cx="224.80" cy="389.59" r="2.2"/><circle cx="226.25" cy="389.70" r="2.2"/><circle cx="227.70" cy="389.13" r="2.2"/><circle cx="229.15" cy="388.91" r="2.2"/><circle cx="230.60" cy="389.04" r="2.2"/><circle cx="232.05" cy="389.00" r="2.2"/><circle cx="233.50" cy="389.09" r="2.2"/><circle cx="234.95" cy="388.64" r="2.2"/><circle cx="236.40" cy="388.95" r="2.2"/><circle cx="237.85" cy="388.78" r="2.2"/><circle cx="239.30" cy="388.46" r="2.2"/><circle cx="240.75" cy="388.01" r="2.2"/><circle cx="242.20" cy="388.08" r="2.2"/><circle cx="243.65" cy="386.98" r="2.2"/><circle cx="245.10" cy="386.22" r="2.2"/><circle cx="246.55" cy="384.70" r="2.2"/><circle cx="248.00" cy="383.25" r="2.2"/><circle cx="249.45" cy="381.70" r="2.2"/><circle cx="250.90" cy="378.30" r="2.2"/><circle cx="252.35" cy="372.58" r="2.2"/><circle cx="253.80" cy="363.78" r="2.2"/><circle cx="255.25" cy="354.70" r="2.2"/><circle cx="256.70" cy="350.89" r="2.2"/><circle cx="258.15" cy="352.27" r="2.2"/><circle cx="259.60" cy="355.64" r="2.2"/><circle cx="261.05" cy="356.96" r="2.2"/><circle cx="262.50" cy="356.92" r="2.2"/><circle cx="263.95" cy="356.89" r="2.2"/><circle cx="265.40" cy="356.14" r="2.2"/><circle cx="266.85" cy="356.68" r="2.2"/><circle cx="268.30" cy="358.40" r="2.2"/><circle cx="269.75" cy="367.79" r="2.2"/><circle cx="271.20" cy="371.69" r="2.2"/><circle cx="272.65" cy="375.57" r="2.2"/><circle cx="274.10" cy="378.92" r="2.2"/><circle cx="275.55" cy="381.24" r="2.2"/><circle cx="277.00" cy="383.05" r="2.2"/><circle cx="278.45" cy="384.83" r="2.2"/><circle cx="279.90" cy="386.10" r="2.2"/><circle cx="281.35" cy="386.72" r="2.2"/><circle cx="282.80" cy="387.37" r="2.2"/><circle cx="284.25" cy="388.56" r="2.2"/><circle cx="285.70" cy="388.92" r="2.2"/><circle cx="287.15" cy="388.74" r="2.2"/><circle cx="288.60" cy="389.39" r="2.2"/><circle cx="290.05" cy="389.35" r="2.2"/><circle cx="291.50" cy="389.47" r="2.2"/><circle cx="292.95" cy="389.53" r="2.2"/><circle cx="294.40" cy="389.48" r="2.2"/><circle cx="295.85" cy="389.42" r="2.2"/><circle cx="297.30" cy="389.66" r="2.2"/><circle cx="298.75" cy="389.75" r="2.2"/><circle cx="300.20" cy="390.21" r="2.2"/><circle cx="301.65" cy="389.66" r="2.2"/><circle cx="303.10" cy="390.27" r="2.2"/><circle cx="304.55" cy="389.76" r="2.2"/><circle cx="306.00" cy="389.89" r="2.2"/><circle cx="307.45" cy="390.22" r="2.2"/><circle cx="308.90" cy="390.24" r="2.2"/><circle cx="310.35" cy="389.98" r="2.2"/><circle cx="311.80" cy="389.72" r="2.2"/><circle cx="313.25" cy="390.02" r="2.2"/><circle cx="314.70" cy="389.96" r="2.2"/><circle cx="316.15" cy="390.35" r="2.2"/><circle cx="317.60" cy="389.85" r="2.2"/><circle cx="319.05" cy="389.97" r="2.2"/><circle cx="320.50" cy="390.35" r="2.2"/><circle cx="321.95" cy="389.75" r="2.2"/><circle cx="323.40" cy="390.03" r="2.2"/></g>
<path d="M200.80,390.10 C203.90,390.04 213.20,389.98 219.40,389.73 C225.60,389.48 234.07,388.99 238.00,388.60 C241.93,388.21 241.82,387.83 243.00,387.40 C244.18,386.97 244.35,386.57 245.10,386.00 C245.85,385.43 246.73,384.82 247.50,384.00 C248.27,383.18 249.08,382.18 249.70,381.10 C250.32,380.02 250.75,379.02 251.20,377.50 C251.65,375.98 252.00,374.08 252.40,372.00 C252.80,369.92 253.22,367.28 253.60,365.00 C253.98,362.72 254.33,360.37 254.70,358.30 C255.07,356.23 255.33,353.82 255.80,352.60 C256.27,351.38 256.90,350.55 257.50,351.00 C258.10,351.45 258.53,354.27 259.40,355.30 C260.27,356.33 261.52,357.05 262.70,357.20 C263.88,357.35 265.55,355.90 266.50,356.20 C267.45,356.50 267.93,357.30 268.40,359.00 C268.87,360.70 268.83,364.23 269.30,366.40 C269.77,368.57 270.50,370.15 271.20,372.00 C271.90,373.85 272.70,375.90 273.50,377.50 C274.30,379.10 275.08,380.35 276.00,381.60 C276.92,382.85 277.93,384.03 279.00,385.00 C280.07,385.97 280.90,386.70 282.40,387.40 C283.90,388.10 284.98,388.78 288.00,389.20 C291.02,389.62 294.32,389.75 300.50,389.90 C306.68,390.05 321.00,390.07 325.10,390.10" fill="none" stroke="#d21e1e" stroke-width="2.5" stroke-linejoin="round"/>
<path d="M200.80,390.10 C203.90,390.04 213.20,389.98 219.40,389.73 C225.60,389.48 234.07,388.99 238.00,388.60 C241.93,388.21 241.82,387.83 243.00,387.40 C244.18,386.97 244.35,386.57 245.10,386.00 C245.85,385.43 246.73,384.82 247.50,384.00 C248.27,383.18 249.08,382.18 249.70,381.10 C250.32,380.02 250.75,379.02 251.20,377.50 C251.65,375.98 252.00,374.08 252.40,372.00 C252.80,369.92 253.22,367.28 253.60,365.00 C253.98,362.72 254.33,360.37 254.70,358.30 C255.07,356.23 255.33,353.82 255.80,352.60 C256.27,351.38 256.90,350.55 257.50,351.00 C258.10,351.45 258.53,354.27 259.40,355.30 C260.27,356.33 261.52,357.05 262.70,357.20 C263.88,357.35 265.55,355.90 266.50,356.20 C267.45,356.50 267.93,357.30 268.40,359.00 C268.87,360.70 268.83,364.23 269.30,366.40 C269.77,368.57 270.50,370.15 271.20,372.00 C271.90,373.85 272.70,375.90 273.50,377.50 C274.30,379.10 275.08,380.35 276.00,381.60 C276.92,382.85 277.93,384.03 279.00,385.00 C280.07,385.97 280.90,386.70 282.40,387.40 C283.90,388.10 284.98,388.78 288.00,389.20 C291.02,389.62 294.32,389.75 300.50,389.90 C306.68,390.05 321.00,390.07 325.10,390.10" fill="none" stroke="#f6d0d0" stroke-width="0.9" stroke-dasharray="1.1 1.6" transform="translate(0,1.15)"/>
<polygon points="247.50,432.60 247.50,432.24 248.00,432.22 248.50,432.20 249.00,432.18 249.50,432.15 250.00,432.13 250.50,432.10 251.00,432.07 251.50,432.04 252.00,432.00 252.50,431.96 253.00,431.92 253.50,431.87 254.00,431.82 254.50,431.76 255.00,431.69 255.50,431.61 256.00,431.52 256.50,431.41 257.00,431.28 257.50,431.12 258.00,430.94 258.50,430.71 259.00,430.43 259.50,430.08 260.00,429.67 260.50,429.17 261.00,428.57 261.50,427.87 262.00,427.06 262.50,426.13 263.00,425.10 263.50,423.97 264.00,422.78 264.50,421.55 265.00,420.35 265.50,419.27 266.00,418.38 266.50,417.80 267.00,417.60 267.50,417.69 268.00,417.96 268.50,418.38 269.00,418.94 269.50,419.61 270.00,420.35 270.50,421.15 271.00,421.96 271.50,422.78 272.00,423.27 272.50,423.24 273.00,423.27 273.50,423.38 274.00,423.56 274.50,423.79 275.00,424.30 275.50,424.96 276.00,425.59 276.50,426.20 277.00,426.77 277.50,427.32 278.00,427.84 278.50,428.34 279.00,428.80 279.50,429.24 280.00,429.65 280.50,430.03 281.00,430.38 281.50,431.18 282.00,431.41 282.50,431.61 283.00,431.79 283.50,431.94 284.00,432.07 284.50,432.18 284.50,432.60" fill="#ec0bec" fill-opacity="0.8"/>
<polygon points="225.50,432.60 225.50,432.25 226.00,432.24 226.50,432.22 227.00,432.21 227.50,432.20 228.00,432.19 228.50,432.18 229.00,432.16 229.50,432.15 230.00,432.13 230.50,432.12 231.00,432.10 231.50,432.08 232.00,432.06 232.50,432.04 233.00,432.02 233.50,432.00 234.00,431.98 234.50,431.95 235.00,431.93 235.50,431.90 236.00,431.87 236.50,431.84 237.00,431.81 237.50,431.77 238.00,431.74 238.50,431.70 239.00,431.65 239.50,431.61 240.00,431.56 240.50,431.50 241.00,431.44 241.50,431.37 242.00,431.29 242.50,431.21 243.00,431.11 243.50,431.00 244.00,430.88 244.50,430.73 245.00,430.57 245.50,430.38 246.00,426.42 246.50,425.86 247.00,425.27 247.50,424.76 248.00,424.10 248.50,423.00 249.00,421.34 249.50,419.31 250.00,419.66 250.50,421.01 251.00,423.36 251.50,424.29 252.00,423.33 252.50,422.30 253.00,421.20 253.50,420.04 254.00,418.83 254.50,417.58 255.00,416.33 255.50,415.09 256.00,413.89 256.50,412.78 257.00,411.79 257.50,410.95 258.00,410.33 258.50,409.93 259.00,409.80 259.50,409.93 260.00,410.33 260.50,410.95 261.00,411.79 261.50,412.78 262.00,413.89 262.50,415.09 263.00,416.33 263.50,417.58 264.00,418.83 264.50,420.04 265.00,421.20 265.50,422.30 266.00,423.33 266.50,424.29 267.00,425.17 267.50,425.97 268.00,426.70 268.50,427.34 269.00,427.92 269.50,428.43 270.00,428.88 270.50,429.27 271.00,429.61 271.50,429.90 272.00,430.16 272.50,430.38 273.00,430.57 273.50,430.73 274.00,430.88 274.50,431.00 275.00,431.11 275.50,431.21 276.00,431.29 276.50,431.37 277.00,431.44 277.50,431.50 278.00,431.56 278.50,431.61 279.00,431.65 279.50,431.70 280.00,431.74 280.50,431.77 281.00,431.81 281.50,431.84 282.00,431.94 282.50,432.04 283.00,432.13 283.50,432.21 283.50,432.60" fill="#0aec0a" fill-opacity="0.78"/>
<polygon points="249.50,432.60 249.50,432.12 250.00,431.59 250.50,430.67 251.00,429.22 251.50,427.15 252.00,424.55 252.50,421.70 253.00,419.06 253.50,417.18 254.00,416.50 254.50,417.18 255.00,419.06 255.50,421.70 256.00,424.55 256.50,427.15 257.00,429.22 257.50,430.67 258.00,431.59 258.50,432.12 258.50,432.60" fill="#0e26e2" fill-opacity="0.85"/>
<g fill="none" stroke="#7a4646" stroke-width="0.8"><circle cx="201.60" cy="431.81" r="2.2"/><circle cx="203.05" cy="431.77" r="2.2"/><circle cx="204.50" cy="431.25" r="2.2"/><circle cx="205.95" cy="431.23" r="2.2"/><circle cx="207.40" cy="431.24" r="2.2"/><circle cx="208.85" cy="431.83" r="2.2"/><circle cx="210.30" cy="431.35" r="2.2"/><circle cx="211.75" cy="431.68" r="2.2"/><circle cx="213.20" cy="431.77" r="2.2"/><circle cx="214.65" cy="431.36" r="2.2"/><circle cx="216.10" cy="431.29" r="2.2"/><circle cx="217.55" cy="431.74" r="2.2"/><circle cx="219.00" cy="431.47" r="2.2"/><circle cx="220.45" cy="431.18" r="2.2"/><circle cx="221.90" cy="431.47" r="2.2"/><circle cx="223.35" cy="431.15" r="2.2"/><circle cx="224.80" cy="431.08" r="2.2"/><circle cx="226.25" cy="430.85" r="2.2"/><circle cx="227.70" cy="431.33" r="2.2"/><circle cx="229.15" cy="431.39" r="2.2"/><circle cx="230.60" cy="431.14" r="2.2"/><circle cx="232.05" cy="431.30" r="2.2"/><circle cx="233.50" cy="430.60" r="2.2"/><circle cx="234.95" cy="430.67" r="2.2"/><circle cx="236.40" cy="430.75" r="2.2"/><circle cx="237.85" cy="430.96" r="2.2"/><circle cx="239.30" cy="430.61" r="2.2"/><circle cx="240.75" cy="429.65" r="2.2"/><circle cx="242.20" cy="428.87" r="2.2"/><circle cx="243.65" cy="428.16" r="2.2"/><circle cx="245.10" cy="427.02" r="2.2"/><circle cx="246.55" cy="425.80" r="2.2"/><circle cx="248.00" cy="423.58" r="2.2"/><circle cx="249.45" cy="419.43" r="2.2"/><circle cx="250.90" cy="412.73" r="2.2"/><circle cx="252.35" cy="405.00" r="2.2"/><circle cx="253.80" cy="396.35" r="2.2"/><circle cx="255.25" cy="396.88" r="2.2"/><circle cx="256.70" cy="399.79" r="2.2"/><circle cx="258.15" cy="402.16" r="2.2"/><circle cx="259.60" cy="403.06" r="2.2"/><circle cx="261.05" cy="401.91" r="2.2"/><circle cx="262.50" cy="400.98" r="2.2"/><circle cx="263.95" cy="404.20" r="2.2"/><circle cx="265.40" cy="407.05" r="2.2"/><circle cx="266.85" cy="409.16" r="2.2"/><circle cx="268.30" cy="411.61" r="2.2"/><circle cx="269.75" cy="414.21" r="2.2"/><circle cx="271.20" cy="417.20" r="2.2"/><circle cx="272.65" cy="419.88" r="2.2"/><circle cx="274.10" cy="422.99" r="2.2"/><circle cx="275.55" cy="424.99" r="2.2"/><circle cx="277.00" cy="426.81" r="2.2"/><circle cx="278.45" cy="427.82" r="2.2"/><circle cx="279.90" cy="428.98" r="2.2"/><circle cx="281.35" cy="430.04" r="2.2"/><circle cx="282.80" cy="431.21" r="2.2"/><circle cx="284.25" cy="431.99" r="2.2"/><circle cx="285.70" cy="432.21" r="2.2"/><circle cx="287.15" cy="432.34" r="2.2"/><circle cx="288.60" cy="432.65" r="2.2"/><circle cx="290.05" cy="432.91" r="2.2"/><circle cx="291.50" cy="433.01" r="2.2"/><circle cx="292.95" cy="433.09" r="2.2"/><circle cx="294.40" cy="433.18" r="2.2"/><circle cx="295.85" cy="433.06" r="2.2"/><circle cx="297.30" cy="432.70" r="2.2"/><circle cx="298.75" cy="433.22" r="2.2"/><circle cx="300.20" cy="432.86" r="2.2"/><circle cx="301.65" cy="433.07" r="2.2"/><circle cx="303.10" cy="432.96" r="2.2"/><circle cx="304.55" cy="433.23" r="2.2"/><circle cx="306.00" cy="432.87" r="2.2"/><circle cx="307.45" cy="432.91" r="2.2"/><circle cx="308.90" cy="432.92" r="2.2"/><circle cx="310.35" cy="432.87" r="2.2"/><circle cx="311.80" cy="433.39" r="2.2"/><circle cx="313.25" cy="433.19" r="2.2"/><circle cx="314.70" cy="433.02" r="2.2"/><circle cx="316.15" cy="433.08" r="2.2"/><circle cx="317.60" cy="433.50" r="2.2"/><circle cx="319.05" cy="433.17" r="2.2"/><circle cx="320.50" cy="432.98" r="2.2"/><circle cx="321.95" cy="433.40" r="2.2"/><circle cx="323.40" cy="433.30" r="2.2"/></g>
<path d="M200.80,431.60 C203.73,431.57 212.53,431.53 218.40,431.40 C224.27,431.27 232.40,431.03 236.00,430.80 C239.60,430.57 238.83,430.37 240.00,430.00 C241.17,429.63 242.20,429.05 243.00,428.60 C243.80,428.15 244.17,427.87 244.80,427.30 C245.43,426.73 246.18,425.97 246.80,425.20 C247.42,424.43 247.92,424.33 248.50,422.70 C249.08,421.07 249.70,418.13 250.30,415.40 C250.90,412.67 251.60,409.12 252.10,406.30 C252.60,403.48 252.92,400.33 253.30,398.50 C253.68,396.67 253.88,395.15 254.40,395.30 C254.92,395.45 255.60,398.08 256.40,399.40 C257.20,400.72 258.25,402.93 259.20,403.20 C260.15,403.47 261.30,400.78 262.10,401.00 C262.90,401.22 263.18,403.07 264.00,404.50 C264.82,405.93 265.83,407.55 267.00,409.60 C268.17,411.65 269.67,414.40 271.00,416.80 C272.33,419.20 273.40,421.83 275.00,424.00 C276.60,426.17 278.60,428.38 280.60,429.80 C282.60,431.22 283.77,431.97 287.00,432.50 C290.23,433.03 293.65,432.88 300.00,433.00 C306.35,433.12 320.92,433.17 325.10,433.20" fill="none" stroke="#d21e1e" stroke-width="2.5" stroke-linejoin="round"/>
<path d="M200.80,431.60 C203.73,431.57 212.53,431.53 218.40,431.40 C224.27,431.27 232.40,431.03 236.00,430.80 C239.60,430.57 238.83,430.37 240.00,430.00 C241.17,429.63 242.20,429.05 243.00,428.60 C243.80,428.15 244.17,427.87 244.80,427.30 C245.43,426.73 246.18,425.97 246.80,425.20 C247.42,424.43 247.92,424.33 248.50,422.70 C249.08,421.07 249.70,418.13 250.30,415.40 C250.90,412.67 251.60,409.12 252.10,406.30 C252.60,403.48 252.92,400.33 253.30,398.50 C253.68,396.67 253.88,395.15 254.40,395.30 C254.92,395.45 255.60,398.08 256.40,399.40 C257.20,400.72 258.25,402.93 259.20,403.20 C260.15,403.47 261.30,400.78 262.10,401.00 C262.90,401.22 263.18,403.07 264.00,404.50 C264.82,405.93 265.83,407.55 267.00,409.60 C268.17,411.65 269.67,414.40 271.00,416.80 C272.33,419.20 273.40,421.83 275.00,424.00 C276.60,426.17 278.60,428.38 280.60,429.80 C282.60,431.22 283.77,431.97 287.00,432.50 C290.23,433.03 293.65,432.88 300.00,433.00 C306.35,433.12 320.92,433.17 325.10,433.20" fill="none" stroke="#f6d0d0" stroke-width="0.9" stroke-dasharray="1.1 1.6" transform="translate(0,1.15)"/>
<polygon points="249.00,472.50 249.00,472.14 249.50,472.10 250.00,472.08 250.50,472.05 251.00,472.03 251.50,472.00 252.00,471.96 252.50,471.92 253.00,471.88 253.50,471.84 254.00,471.78 254.50,471.72 255.00,471.65 255.50,471.57 256.00,471.46 256.50,471.34 257.00,471.19 257.50,471.00 258.00,470.76 258.50,470.47 259.00,470.10 259.50,469.66 260.00,469.12 260.50,468.48 261.00,467.72 261.50,466.85 262.00,465.86 262.50,464.77 263.00,463.60 263.50,462.37 264.00,461.14 264.50,459.97 265.00,458.93 265.50,458.12 266.00,457.63 266.50,457.50 267.00,457.66 267.50,458.04 268.00,458.61 268.50,459.32 269.00,460.15 269.50,461.05 270.00,461.98 270.50,462.93 271.00,463.85 271.50,464.49 272.00,464.32 272.50,464.12 273.00,463.95 273.50,463.83 274.00,463.78 274.50,464.06 275.00,464.82 275.50,465.52 276.00,466.14 276.50,466.73 277.00,467.27 277.50,467.79 278.00,468.27 278.50,471.12 279.00,471.25 279.50,471.36 280.00,471.46 280.50,471.54 281.00,471.61 281.50,471.67 282.00,471.72 282.50,471.77 283.00,471.81 283.50,471.85 284.00,471.88 284.50,471.92 285.00,471.95 285.50,471.97 286.00,472.00 286.50,472.02 287.00,472.04 287.50,472.06 288.00,472.08 288.50,472.10 289.00,472.12 289.50,472.13 290.00,472.15 290.00,472.50" fill="#ec0bec" fill-opacity="0.8"/>
<polygon points="249.00,472.50 249.00,472.13 249.50,472.07 250.00,472.03 250.50,471.97 251.00,471.91 251.50,471.81 252.00,471.69 252.50,471.51 253.00,471.26 253.50,470.91 254.00,470.42 254.50,469.74 255.00,468.85 255.50,467.70 256.00,466.28 256.50,464.61 257.00,462.73 257.50,460.72 258.00,458.71 258.50,456.89 259.00,455.46 259.50,454.64 260.00,454.56 260.50,455.25 261.00,456.57 261.50,458.33 262.00,460.31 262.50,462.33 263.00,464.25 263.50,465.97 264.00,467.44 264.50,468.64 265.00,469.58 265.50,470.30 266.00,470.82 266.50,471.20 267.00,471.47 267.50,471.66 268.00,471.79 268.50,471.89 269.00,471.96 269.50,472.02 270.00,472.07 270.50,472.10 271.00,472.14 271.00,472.50" fill="#0aec0a" fill-opacity="0.78"/>
<polygon points="228.00,472.50 228.00,472.14 228.50,472.12 229.00,472.11 229.50,472.09 230.00,472.07 230.50,472.05 231.00,472.03 231.50,472.01 232.00,471.99 232.50,471.96 233.00,471.93 233.50,471.90 234.00,471.87 234.50,471.84 235.00,471.80 235.50,471.76 236.00,471.71 236.50,471.67 237.00,471.61 237.50,471.55 238.00,471.48 238.50,471.41 239.00,471.32 239.50,471.22 240.00,471.09 240.50,470.94 241.00,470.76 241.50,470.54 242.00,470.26 242.50,469.91 243.00,466.77 243.50,466.23 244.00,465.64 244.50,465.08 245.00,464.54 245.50,463.98 246.00,463.32 246.50,462.44 247.00,461.27 247.50,459.80 248.00,458.12 248.50,455.70 249.00,452.42 249.50,449.14 250.00,447.24 250.50,445.53 251.00,444.14 251.50,443.31 252.00,443.13 252.50,444.03 253.00,446.06 253.50,448.86 254.00,452.05 254.50,455.30 255.00,458.40 255.50,461.18 256.00,463.57 256.50,465.53 257.00,467.10 257.50,468.30 258.00,469.21 258.50,469.87 259.00,470.36 259.50,470.71 260.00,470.97 260.50,471.16 261.00,471.32 261.50,471.44 262.00,471.54 262.50,471.62 263.00,471.70 263.50,471.76 264.00,471.82 264.50,471.87 265.00,471.91 265.50,471.95 266.00,471.99 266.50,472.02 267.00,472.05 267.50,472.08 268.00,472.11 268.50,472.13 269.00,472.15 269.00,472.50" fill="#0e26e2" fill-opacity="0.85"/>
<g fill="none" stroke="#7a4646" stroke-width="0.8"><circle cx="201.60" cy="472.14" r="2.2"/><circle cx="203.05" cy="471.50" r="2.2"/><circle cx="204.50" cy="471.75" r="2.2"/><circle cx="205.95" cy="471.98" r="2.2"/><circle cx="207.40" cy="471.98" r="2.2"/><circle cx="208.85" cy="472.02" r="2.2"/><circle cx="210.30" cy="471.39" r="2.2"/><circle cx="211.75" cy="471.55" r="2.2"/><circle cx="213.20" cy="471.41" r="2.2"/><circle cx="214.65" cy="471.43" r="2.2"/><circle cx="216.10" cy="471.95" r="2.2"/><circle cx="217.55" cy="471.64" r="2.2"/><circle cx="219.00" cy="471.85" r="2.2"/><circle cx="220.45" cy="471.41" r="2.2"/><circle cx="221.90" cy="471.72" r="2.2"/><circle cx="223.35" cy="471.38" r="2.2"/><circle cx="224.80" cy="471.20" r="2.2"/><circle cx="226.25" cy="471.51" r="2.2"/><circle cx="227.70" cy="471.57" r="2.2"/><circle cx="229.15" cy="470.92" r="2.2"/><circle cx="230.60" cy="471.20" r="2.2"/><circle cx="232.05" cy="471.14" r="2.2"/><circle cx="233.50" cy="470.77" r="2.2"/><circle cx="234.95" cy="470.78" r="2.2"/><circle cx="236.40" cy="470.47" r="2.2"/><circle cx="237.85" cy="470.05" r="2.2"/><circle cx="239.30" cy="469.33" r="2.2"/><circle cx="240.75" cy="468.50" r="2.2"/><circle cx="242.20" cy="467.32" r="2.2"/><circle cx="243.65" cy="465.55" r="2.2"/><circle cx="245.10" cy="463.79" r="2.2"/><circle cx="246.55" cy="461.91" r="2.2"/><circle cx="248.00" cy="457.94" r="2.2"/><circle cx="249.45" cy="448.44" r="2.2"/><circle cx="250.90" cy="440.45" r="2.2"/><circle cx="252.35" cy="439.09" r="2.2"/><circle cx="253.80" cy="442.70" r="2.2"/><circle cx="255.25" cy="445.56" r="2.2"/><circle cx="256.70" cy="445.57" r="2.2"/><circle cx="258.15" cy="444.16" r="2.2"/><circle cx="259.60" cy="445.41" r="2.2"/><circle cx="261.05" cy="447.49" r="2.2"/><circle cx="262.50" cy="448.24" r="2.2"/><circle cx="263.95" cy="448.39" r="2.2"/><circle cx="265.40" cy="449.04" r="2.2"/><circle cx="266.85" cy="450.56" r="2.2"/><circle cx="268.30" cy="452.56" r="2.2"/><circle cx="269.75" cy="455.18" r="2.2"/><circle cx="271.20" cy="457.81" r="2.2"/><circle cx="272.65" cy="460.88" r="2.2"/><circle cx="274.10" cy="462.98" r="2.2"/><circle cx="275.55" cy="465.33" r="2.2"/><circle cx="277.00" cy="466.87" r="2.2"/><circle cx="278.45" cy="468.31" r="2.2"/><circle cx="279.90" cy="469.75" r="2.2"/><circle cx="281.35" cy="470.72" r="2.2"/><circle cx="282.80" cy="470.93" r="2.2"/><circle cx="284.25" cy="471.23" r="2.2"/><circle cx="285.70" cy="471.83" r="2.2"/><circle cx="287.15" cy="471.62" r="2.2"/><circle cx="288.60" cy="471.60" r="2.2"/><circle cx="290.05" cy="472.29" r="2.2"/><circle cx="291.50" cy="471.98" r="2.2"/><circle cx="292.95" cy="472.26" r="2.2"/><circle cx="294.40" cy="471.95" r="2.2"/><circle cx="295.85" cy="472.27" r="2.2"/><circle cx="297.30" cy="471.97" r="2.2"/><circle cx="298.75" cy="471.76" r="2.2"/><circle cx="300.20" cy="471.66" r="2.2"/><circle cx="301.65" cy="472.05" r="2.2"/><circle cx="303.10" cy="472.12" r="2.2"/><circle cx="304.55" cy="472.32" r="2.2"/><circle cx="306.00" cy="471.76" r="2.2"/><circle cx="307.45" cy="472.14" r="2.2"/><circle cx="308.90" cy="471.98" r="2.2"/><circle cx="310.35" cy="472.08" r="2.2"/><circle cx="311.80" cy="471.84" r="2.2"/><circle cx="313.25" cy="471.95" r="2.2"/><circle cx="314.70" cy="472.13" r="2.2"/><circle cx="316.15" cy="472.43" r="2.2"/><circle cx="317.60" cy="471.87" r="2.2"/><circle cx="319.05" cy="472.14" r="2.2"/><circle cx="320.50" cy="472.38" r="2.2"/><circle cx="321.95" cy="472.50" r="2.2"/><circle cx="323.40" cy="471.97" r="2.2"/></g>
<path d="M200.80,471.80 C203.48,471.77 211.53,471.73 216.90,471.60 C222.27,471.47 229.48,471.23 233.00,471.00 C236.52,470.77 236.48,470.82 238.00,470.20 C239.52,469.58 241.05,468.17 242.10,467.30 C243.15,466.43 243.62,465.77 244.30,465.00 C244.98,464.23 245.67,463.62 246.20,462.70 C246.73,461.78 247.12,460.72 247.50,459.50 C247.88,458.28 248.12,457.60 248.50,455.40 C248.88,453.20 249.38,448.83 249.80,446.30 C250.22,443.77 250.65,441.48 251.00,440.20 C251.35,438.92 251.45,438.25 251.90,438.60 C252.35,438.95 253.03,441.03 253.70,442.30 C254.37,443.57 255.10,445.85 255.90,446.20 C256.70,446.55 257.63,444.18 258.50,444.40 C259.37,444.62 260.22,446.80 261.10,447.50 C261.98,448.20 262.82,448.08 263.80,448.60 C264.78,449.12 265.80,449.10 267.00,450.60 C268.20,452.10 269.53,455.10 271.00,457.60 C272.47,460.10 274.07,463.47 275.80,465.60 C277.53,467.73 279.37,469.35 281.40,470.40 C283.43,471.45 284.82,471.63 288.00,471.90 C291.18,472.17 294.32,471.95 300.50,472.00 C306.68,472.05 321.00,472.17 325.10,472.20" fill="none" stroke="#d21e1e" stroke-width="2.5" stroke-linejoin="round"/>
<path d="M200.80,471.80 C203.48,471.77 211.53,471.73 216.90,471.60 C222.27,471.47 229.48,471.23 233.00,471.00 C236.52,470.77 236.48,470.82 238.00,470.20 C239.52,469.58 241.05,468.17 242.10,467.30 C243.15,466.43 243.62,465.77 244.30,465.00 C244.98,464.23 245.67,463.62 246.20,462.70 C246.73,461.78 247.12,460.72 247.50,459.50 C247.88,458.28 248.12,457.60 248.50,455.40 C248.88,453.20 249.38,448.83 249.80,446.30 C250.22,443.77 250.65,441.48 251.00,440.20 C251.35,438.92 251.45,438.25 251.90,438.60 C252.35,438.95 253.03,441.03 253.70,442.30 C254.37,443.57 255.10,445.85 255.90,446.20 C256.70,446.55 257.63,444.18 258.50,444.40 C259.37,444.62 260.22,446.80 261.10,447.50 C261.98,448.20 262.82,448.08 263.80,448.60 C264.78,449.12 265.80,449.10 267.00,450.60 C268.20,452.10 269.53,455.10 271.00,457.60 C272.47,460.10 274.07,463.47 275.80,465.60 C277.53,467.73 279.37,469.35 281.40,470.40 C283.43,471.45 284.82,471.63 288.00,471.90 C291.18,472.17 294.32,471.95 300.50,472.00 C306.68,472.05 321.00,472.17 325.10,472.20" fill="none" stroke="#f6d0d0" stroke-width="0.9" stroke-dasharray="1.1 1.6" transform="translate(0,1.15)"/>
<line x1="200.5" y1="29" x2="200.5" y2="483.5" stroke="#000" stroke-width="2.2"/>
<line x1="199.5" y1="30" x2="326" y2="30" stroke="#000" stroke-width="2.2"/>
<line x1="199.5" y1="482.5" x2="326" y2="482.5" stroke="#000" stroke-width="2.2"/>
<line x1="219.1" y1="482.5" x2="219.1" y2="475.5" stroke="#000" stroke-width="2"/>
<line x1="265.9" y1="482.5" x2="265.9" y2="475.5" stroke="#000" stroke-width="2"/>
<line x1="312.5" y1="482.5" x2="312.5" y2="475.5" stroke="#000" stroke-width="2"/>
<line x1="242.4" y1="482.5" x2="242.4" y2="478.5" stroke="#000" stroke-width="2"/>
<line x1="289.0" y1="482.5" x2="289.0" y2="478.5" stroke="#000" stroke-width="2"/>
<text x="204.89999999999998" y="506.3" font-size="18" textLength="27.9" lengthAdjust="spacingAndGlyphs">45.6</text>
<text x="251.7" y="506.3" font-size="18" textLength="28.7" lengthAdjust="spacingAndGlyphs">45.9</text>
<text x="298.59999999999997" y="506.3" font-size="18" textLength="27.9" lengthAdjust="spacingAndGlyphs">46.2</text>
<text x="229.4" y="531.5" font-size="21" textLength="66.5" lengthAdjust="spacingAndGlyphs">2θ (deg.)</text>
<text x="188.6" y="257.2" font-size="21" text-anchor="middle" textLength="172.8" lengthAdjust="spacingAndGlyphs" transform="rotate(-90 188.6 257.2)">Intensity (arb. units)</text>
<text x="275.7" y="50.9" font-size="18.8" textLength="90.7" lengthAdjust="spacingAndGlyphs">E= -37 kV/cm</text>
<text x="297.7" y="82.8" font-size="18.8" textLength="69.0" lengthAdjust="spacingAndGlyphs">-28 kV/cm</text>
<text x="298.7" y="108.9" font-size="18.8" textLength="67.6" lengthAdjust="spacingAndGlyphs">-23 kV/cm</text>
<text x="299.7" y="135.0" font-size="18.8" textLength="67.3" lengthAdjust="spacingAndGlyphs">-19 kV/cm</text>
<text x="299.7" y="185.4" font-size="18.8" textLength="69.1" lengthAdjust="spacingAndGlyphs">-14 kV/cm</text>
<text x="301.7" y="241.6" font-size="18.8" textLength="61.1" lengthAdjust="spacingAndGlyphs">-9 kV/cm</text>
<text x="306.7" y="292.0" font-size="18.8" textLength="56.1" lengthAdjust="spacingAndGlyphs">0 kV/cm</text>
<text x="306.4" y="339.6" font-size="18.8" textLength="56.4" lengthAdjust="spacingAndGlyphs">9 kV/cm</text>
<text x="301.7" y="382.7" font-size="18.8" textLength="62.7" lengthAdjust="spacingAndGlyphs">19 kV/cm</text>
<text x="301.4" y="424.1" font-size="18.8" textLength="63.4" lengthAdjust="spacingAndGlyphs">28 kV/cm</text>
<text x="301.4" y="461.6" font-size="18.8" textLength="63.4" lengthAdjust="spacingAndGlyphs">37 kV/cm</text>
<rect x="204.2" y="158.5" width="4.5" height="12.5" fill="#1a1acd"/>
<rect x="204.2" y="198.5" width="4.5" height="12.3" fill="#33e633"/>
<rect x="204.2" y="220.4" width="4.5" height="11.8" fill="#ee22ee"/>
<text x="210.2" y="171.6" font-size="18.5" textLength="34.8" lengthAdjust="spacingAndGlyphs">(024)</text>
<text x="245.0" y="176.7" font-size="13" textLength="7.8" lengthAdjust="spacingAndGlyphs">R</text>
<text x="210.2" y="211.0" font-size="18.5" textLength="34.6" lengthAdjust="spacingAndGlyphs">(002)</text>
<text x="245.4" y="216.0" font-size="13" textLength="7.2" lengthAdjust="spacingAndGlyphs">T</text>
<text x="210.2" y="232.4" font-size="18.5" textLength="34.6" lengthAdjust="spacingAndGlyphs">(200)</text>
<text x="245.4" y="237.4" font-size="13" textLength="7.2" lengthAdjust="spacingAndGlyphs">T</text>
<line x1="469.6" y1="31.4" x2="469.6" y2="59.3" stroke="#c2c2c2" stroke-width="0.85"/>
<line x1="467.6" y1="31.4" x2="471.6" y2="31.4" stroke="#c2c2c2" stroke-width="0.85"/>
<line x1="467.6" y1="59.3" x2="471.6" y2="59.3" stroke="#c2c2c2" stroke-width="0.85"/>
<line x1="498.9" y1="40" x2="498.9" y2="69.5" stroke="#c2c2c2" stroke-width="0.85"/>
<line x1="496.9" y1="40" x2="500.9" y2="40" stroke="#c2c2c2" stroke-width="0.85"/>
<line x1="496.9" y1="69.5" x2="500.9" y2="69.5" stroke="#c2c2c2" stroke-width="0.85"/>
<line x1="515.2" y1="45.3" x2="515.2" y2="78" stroke="#c2c2c2" stroke-width="0.85"/>
<line x1="513.2" y1="45.3" x2="517.2" y2="45.3" stroke="#c2c2c2" stroke-width="0.85"/>
<line x1="513.2" y1="78" x2="517.2" y2="78" stroke="#c2c2c2" stroke-width="0.85"/>
<line x1="529.9" y1="41.6" x2="529.9" y2="96.9" stroke="#c2c2c2" stroke-width="0.85"/>
<line x1="527.9" y1="41.6" x2="531.9" y2="41.6" stroke="#c2c2c2" stroke-width="0.85"/>
<line x1="527.9" y1="96.9" x2="531.9" y2="96.9" stroke="#c2c2c2" stroke-width="0.85"/>
<line x1="559.9" y1="79.4" x2="559.9" y2="104" stroke="#c2c2c2" stroke-width="0.85"/>
<line x1="557.9" y1="79.4" x2="561.9" y2="79.4" stroke="#c2c2c2" stroke-width="0.85"/>
<line x1="557.9" y1="104" x2="561.9" y2="104" stroke="#c2c2c2" stroke-width="0.85"/>
<line x1="590.2" y1="85" x2="590.2" y2="113" stroke="#c2c2c2" stroke-width="0.85"/>
<line x1="588.2" y1="85" x2="592.2" y2="85" stroke="#c2c2c2" stroke-width="0.85"/>
<line x1="588.2" y1="113" x2="592.2" y2="113" stroke="#c2c2c2" stroke-width="0.85"/>
<line x1="620.2" y1="97" x2="620.2" y2="128" stroke="#c2c2c2" stroke-width="0.85"/>
<line x1="618.2" y1="97" x2="622.2" y2="97" stroke="#c2c2c2" stroke-width="0.85"/>
<line x1="618.2" y1="128" x2="622.2" y2="128" stroke="#c2c2c2" stroke-width="0.85"/>
<line x1="635.2" y1="103" x2="635.2" y2="131" stroke="#c2c2c2" stroke-width="0.85"/>
<line x1="633.2" y1="103" x2="637.2" y2="103" stroke="#c2c2c2" stroke-width="0.85"/>
<line x1="633.2" y1="131" x2="637.2" y2="131" stroke="#c2c2c2" stroke-width="0.85"/>
<line x1="650.2" y1="100" x2="650.2" y2="140" stroke="#c2c2c2" stroke-width="0.85"/>
<line x1="648.2" y1="100" x2="652.2" y2="100" stroke="#c2c2c2" stroke-width="0.85"/>
<line x1="648.2" y1="140" x2="652.2" y2="140" stroke="#c2c2c2" stroke-width="0.85"/>
<line x1="679.9" y1="82" x2="679.9" y2="107" stroke="#c2c2c2" stroke-width="0.85"/>
<line x1="677.9" y1="82" x2="681.9" y2="82" stroke="#c2c2c2" stroke-width="0.85"/>
<line x1="677.9" y1="107" x2="681.9" y2="107" stroke="#c2c2c2" stroke-width="0.85"/>
<path d="M469.58,45.30 L498.92,53.60 L515.22,61.20 L529.89,69.40" fill="none" stroke="#000" stroke-width="2.2" stroke-linejoin="round"/>
<path d="M469.58,45.30 L498.92,61.20 L529.89,79.20 L559.88,91.40 L590.20,99.20 L620.19,113.20 L635.19,116.90 L650.18,131.00 L664.85,108.80 L679.85,91.00 L709.84,79.10" fill="none" stroke="#000" stroke-width="2.2" stroke-linejoin="round"/>
<path d="M620.19,125.00 L635.19,116.90 L650.18,111.40 L679.85,99.50 L709.84,87.30" fill="none" stroke="#000" stroke-width="2.2" stroke-linejoin="round"/>
<path d="M469.58,95.30 L498.92,101.00 L515.22,110.50 L529.89,118.30 L559.56,132.90 L590.20,138.80 L620.19,152.90 L635.19,163.00 L650.18,163.90 L664.85,154.70 L679.85,129.20 L709.84,118.20" fill="none" stroke="#e00010" stroke-width="2.5" stroke-linejoin="round"/>
<path d="M469.58,95.30 L498.92,107.00 L529.89,118.30 L544.56,171.00 L559.56,160.30 L590.20,136.20 L620.19,134.70 L650.18,124.60 L679.85,122.80 L709.84,127.40" fill="none" stroke="#e00010" stroke-width="2.5" stroke-linejoin="round"/>
<circle cx="469.58" cy="95.30" r="2.4" fill="#f49090" stroke="#e80010" stroke-width="1.8"/>
<circle cx="498.92" cy="101.00" r="2.4" fill="#f49090" stroke="#e80010" stroke-width="1.8"/>
<circle cx="515.22" cy="110.50" r="2.4" fill="#f49090" stroke="#e80010" stroke-width="1.8"/>
<circle cx="529.89" cy="118.30" r="2.4" fill="#f49090" stroke="#e80010" stroke-width="1.8"/>
<circle cx="559.56" cy="132.90" r="2.4" fill="#f49090" stroke="#e80010" stroke-width="1.8"/>
<circle cx="590.20" cy="138.80" r="2.4" fill="#f49090" stroke="#e80010" stroke-width="1.8"/>
<circle cx="620.19" cy="152.90" r="2.4" fill="#f49090" stroke="#e80010" stroke-width="1.8"/>
<circle cx="635.19" cy="163.00" r="2.4" fill="#f49090" stroke="#e80010" stroke-width="1.8"/>
<circle cx="650.18" cy="163.90" r="2.4" fill="#f49090" stroke="#e80010" stroke-width="1.8"/>
<circle cx="664.85" cy="154.70" r="2.4" fill="#f49090" stroke="#e80010" stroke-width="1.8"/>
<circle cx="679.85" cy="129.20" r="2.4" fill="#f49090" stroke="#e80010" stroke-width="1.8"/>
<circle cx="709.84" cy="118.20" r="2.4" fill="#f49090" stroke="#e80010" stroke-width="1.8"/>
<circle cx="469.58" cy="95.30" r="2.4" fill="#f49090" stroke="#e80010" stroke-width="1.8"/>
<circle cx="498.92" cy="107.00" r="2.4" fill="#f49090" stroke="#e80010" stroke-width="1.8"/>
<circle cx="529.89" cy="118.30" r="2.4" fill="#f49090" stroke="#e80010" stroke-width="1.8"/>
<circle cx="544.56" cy="171.00" r="2.4" fill="#f49090" stroke="#e80010" stroke-width="1.8"/>
<circle cx="559.56" cy="160.30" r="2.4" fill="#f49090" stroke="#e80010" stroke-width="1.8"/>
<circle cx="590.20" cy="136.20" r="2.4" fill="#f49090" stroke="#e80010" stroke-width="1.8"/>
<circle cx="620.19" cy="134.70" r="2.4" fill="#f49090" stroke="#e80010" stroke-width="1.8"/>
<circle cx="650.18" cy="124.60" r="2.4" fill="#f49090" stroke="#e80010" stroke-width="1.8"/>
<circle cx="679.85" cy="122.80" r="2.4" fill="#f49090" stroke="#e80010" stroke-width="1.8"/>
<circle cx="709.84" cy="127.40" r="2.4" fill="#f49090" stroke="#e80010" stroke-width="1.8"/>
<rect x="466.58" y="42.30" width="6.0" height="6.0" fill="#000"/>
<rect x="495.92" y="50.60" width="6.0" height="6.0" fill="#000"/>
<rect x="512.22" y="58.20" width="6.0" height="6.0" fill="#000"/>
<rect x="526.89" y="66.40" width="6.0" height="6.0" fill="#000"/>
<rect x="466.58" y="42.30" width="6.0" height="6.0" fill="#000"/>
<rect x="495.92" y="58.20" width="6.0" height="6.0" fill="#000"/>
<rect x="526.89" y="76.20" width="6.0" height="6.0" fill="#000"/>
<rect x="556.88" y="88.40" width="6.0" height="6.0" fill="#000"/>
<rect x="587.20" y="96.20" width="6.0" height="6.0" fill="#000"/>
<rect x="617.19" y="110.20" width="6.0" height="6.0" fill="#000"/>
<rect x="632.19" y="113.90" width="6.0" height="6.0" fill="#000"/>
<rect x="647.18" y="128.00" width="6.0" height="6.0" fill="#000"/>
<rect x="661.85" y="105.80" width="6.0" height="6.0" fill="#000"/>
<rect x="676.85" y="88.00" width="6.0" height="6.0" fill="#000"/>
<rect x="706.84" y="76.10" width="6.0" height="6.0" fill="#000"/>
<rect x="617.19" y="122.00" width="6.0" height="6.0" fill="#000"/>
<rect x="632.19" y="113.90" width="6.0" height="6.0" fill="#000"/>
<rect x="647.18" y="108.40" width="6.0" height="6.0" fill="#000"/>
<rect x="676.85" y="96.50" width="6.0" height="6.0" fill="#000"/>
<rect x="706.84" y="84.30" width="6.0" height="6.0" fill="#000"/>
<path d="M469.58,160.50 L498.92,162.30 L515.22,168.80 L529.89,168.80 L559.88,174.70 L590.20,171.30 L620.19,174.80 L650.18,168.40 L679.85,164.80 L709.84,164.80" fill="none" stroke="#0a0ae8" stroke-width="2.8" stroke-linejoin="round"/>
<path d="M469.58,160.50 L498.92,162.30 L529.89,168.80 L544.56,209.80 L559.88,198.40 L590.20,173.90 L620.19,183.90 L635.19,194.00 L650.18,194.50 L664.85,185.80 L679.85,168.40 L709.84,166.60" fill="none" stroke="#0a0ae8" stroke-width="2.8" stroke-linejoin="round"/>
<polygon points="469.58,155.79 473.38,163.54 465.78,163.54" fill="#0a0ae8"/>
<polygon points="498.92,157.59 502.72,165.34 495.12,165.34" fill="#0a0ae8"/>
<polygon points="515.22,164.09 519.02,171.84 511.42,171.84" fill="#0a0ae8"/>
<polygon points="529.89,164.09 533.69,171.84 526.09,171.84" fill="#0a0ae8"/>
<polygon points="559.88,169.99 563.68,177.74 556.08,177.74" fill="#0a0ae8"/>
<polygon points="590.20,166.59 594.00,174.34 586.40,174.34" fill="#0a0ae8"/>
<polygon points="620.19,170.09 623.99,177.84 616.39,177.84" fill="#0a0ae8"/>
<polygon points="650.18,163.69 653.98,171.44 646.38,171.44" fill="#0a0ae8"/>
<polygon points="679.85,160.09 683.65,167.84 676.05,167.84" fill="#0a0ae8"/>
<polygon points="709.84,160.09 713.64,167.84 706.04,167.84" fill="#0a0ae8"/>
<polygon points="469.58,155.79 473.38,163.54 465.78,163.54" fill="#0a0ae8"/>
<polygon points="498.92,157.59 502.72,165.34 495.12,165.34" fill="#0a0ae8"/>
<polygon points="529.89,164.09 533.69,171.84 526.09,171.84" fill="#0a0ae8"/>
<polygon points="544.56,205.09 548.36,212.84 540.76,212.84" fill="#0a0ae8"/>
<polygon points="559.88,193.69 563.68,201.44 556.08,201.44" fill="#0a0ae8"/>
<polygon points="590.20,169.19 594.00,176.94 586.40,176.94" fill="#0a0ae8"/>
<polygon points="620.19,179.19 623.99,186.94 616.39,186.94" fill="#0a0ae8"/>
<polygon points="635.19,189.29 638.99,197.04 631.39,197.04" fill="#0a0ae8"/>
<polygon points="650.18,189.79 653.98,197.54 646.38,197.54" fill="#0a0ae8"/>
<polygon points="664.85,181.09 668.65,188.84 661.05,188.84" fill="#0a0ae8"/>
<polygon points="679.85,163.69 683.65,171.44 676.05,171.44" fill="#0a0ae8"/>
<polygon points="709.84,161.89 713.64,169.64 706.04,169.64" fill="#0a0ae8"/>
<rect x="454" y="27.5" width="272" height="198.7" fill="none" stroke="#000" stroke-width="2.2"/>
<line x1="454" y1="67.00100000000215" x2="460" y2="67.00100000000215" stroke="#000" stroke-width="2"/>
<line x1="454" y1="126.5" x2="460" y2="126.5" stroke="#000" stroke-width="2"/>
<line x1="454" y1="185.99900000000224" x2="460" y2="185.99900000000224" stroke="#000" stroke-width="2"/>
<line x1="454" y1="37.251500000001016" x2="457" y2="37.251500000001016" stroke="#000" stroke-width="2"/>
<line x1="454" y1="96.75050000000329" x2="457" y2="96.75050000000329" stroke="#000" stroke-width="2"/>
<line x1="454" y1="156.24950000000112" x2="457" y2="156.24950000000112" stroke="#000" stroke-width="2"/>
<line x1="454" y1="215.7485000000034" x2="457" y2="215.7485000000034" stroke="#000" stroke-width="2"/>
<line x1="459.8" y1="226.2" x2="459.8" y2="219.2" stroke="#000" stroke-width="2"/>
<line x1="525.1" y1="226.2" x2="525.1" y2="219.2" stroke="#000" stroke-width="2"/>
<line x1="590.2" y1="226.2" x2="590.2" y2="219.2" stroke="#000" stroke-width="2"/>
<line x1="655.2" y1="226.2" x2="655.2" y2="219.2" stroke="#000" stroke-width="2"/>
<line x1="720.1" y1="226.2" x2="720.1" y2="219.2" stroke="#000" stroke-width="2"/>
<line x1="492.6" y1="226.2" x2="492.6" y2="222.7" stroke="#000" stroke-width="2"/>
<line x1="557.7" y1="226.2" x2="557.7" y2="222.7" stroke="#000" stroke-width="2"/>
<line x1="622.6" y1="226.2" x2="622.6" y2="222.7" stroke="#000" stroke-width="2"/>
<line x1="687.6" y1="226.2" x2="687.6" y2="222.7" stroke="#000" stroke-width="2"/>
<text x="451.2" y="73.00100000000215" font-size="17.5" text-anchor="end" textLength="35" lengthAdjust="spacingAndGlyphs">1.980</text>
<text x="451.2" y="132.5" font-size="17.5" text-anchor="end" textLength="35" lengthAdjust="spacingAndGlyphs">1.977</text>
<text x="451.2" y="191.99900000000224" font-size="17.5" text-anchor="end" textLength="35" lengthAdjust="spacingAndGlyphs">1.974</text>
<text x="460.1000000000001" y="249.8" font-size="18.5" text-anchor="middle" textLength="21.3" lengthAdjust="spacingAndGlyphs">-40</text>
<text x="525.3" y="249.8" font-size="18.5" text-anchor="middle" textLength="21.3" lengthAdjust="spacingAndGlyphs">-20</text>
<text x="590.5" y="249.8" font-size="18.5" text-anchor="middle" textLength="8.2" lengthAdjust="spacingAndGlyphs">0</text>
<text x="655.7" y="249.8" font-size="18.5" text-anchor="middle" textLength="16" lengthAdjust="spacingAndGlyphs">20</text>
<text x="720.9" y="249.8" font-size="18.5" text-anchor="middle" textLength="16" lengthAdjust="spacingAndGlyphs">40</text>
<text x="551.8" y="273.9" font-size="20.5" textLength="77.8" lengthAdjust="spacingAndGlyphs">E (kV/cm)</text>
<text x="407.5" y="127.3" font-size="21" text-anchor="middle" textLength="45" lengthAdjust="spacingAndGlyphs" transform="rotate(-90 407.5 127.3)">d (Å)</text>
<text x="473.0" y="87.2" font-size="18.5" textLength="32.2" lengthAdjust="spacingAndGlyphs">(024)</text>
<text x="506.6" y="91.4" font-size="12" textLength="7.8" lengthAdjust="spacingAndGlyphs">R</text>
<text x="473.8" y="128.3" font-size="18.5" textLength="33.4" lengthAdjust="spacingAndGlyphs">(002)</text>
<text x="508.0" y="133.0" font-size="10.8" textLength="6.2" lengthAdjust="spacingAndGlyphs">T</text>
<text x="473.6" y="187.8" font-size="18.5" textLength="32.8" lengthAdjust="spacingAndGlyphs">(200)</text>
<text x="508.0" y="192.2" font-size="10.8" textLength="6.2" lengthAdjust="spacingAndGlyphs">T</text>
<line x1="454" y1="419.3" x2="726" y2="419.3" stroke="#000" stroke-width="2.2"/>
<line x1="590.1" y1="287.5" x2="590.1" y2="485.8" stroke="#000" stroke-width="2.2"/>
<path d="M488.17,456.13 L502.23,448.97 M508.85,444.90 L513.35,441.60 M519.91,437.41 L523.39,435.49 M528.74,430.22 L535.56,418.38 M540.82,412.96 L544.58,410.64 M551.35,406.78 L555.25,404.72 M561.25,399.95 L566.45,393.95 M571.63,388.12 L576.77,382.48 M581.39,376.24 L588.01,365.06 M593.88,361.33 L596.62,361.07 M603.35,358.04 L608.05,353.66 M613.79,348.38 L618.71,343.92 M624.44,338.62 L629.26,334.08 M634.65,328.45 L640.25,321.95 M646.70,318.85 L649.00,318.75 M655.43,315.63 L660.77,309.37 M666.95,305.03 L670.35,303.77 M677.89,302.18 L690.91,301.42" fill="none" stroke="#e40818" stroke-width="2.4" stroke-linecap="butt"/>
<path d="M488.60,457.77 L501.80,457.33 M509.24,455.56 L512.96,453.84 M520.03,450.55 L523.67,448.85 M530.96,448.22 L533.74,448.98 M540.22,447.20 L545.18,442.10 M551.61,438.10 L554.99,437.00 M562.36,434.45 L565.34,433.35 M572.46,430.20 L575.94,428.40 M582.64,424.44 L586.66,421.76 M593.03,417.27 L607.77,406.33 M613.54,401.13 L629.26,383.97 M634.61,378.30 L650.19,362.20 M655.34,356.36 L671.56,336.14 M676.13,329.83 L692.67,304.47" fill="none" stroke="#e40818" stroke-width="2.4" stroke-linecap="butt"/>
<circle cx="484.7" cy="457.9" r="3.1" fill="#f80818"/>
<circle cx="505.7" cy="447.2" r="3.1" fill="#f80818"/>
<circle cx="516.5" cy="439.3" r="3.1" fill="#f80818"/>
<circle cx="526.8" cy="433.6" r="3.1" fill="#f80818"/>
<circle cx="537.5" cy="415.0" r="3.1" fill="#f80818"/>
<circle cx="547.9" cy="408.6" r="3.1" fill="#f80818"/>
<circle cx="558.7" cy="402.9" r="3.1" fill="#f80818"/>
<circle cx="569.0" cy="391.0" r="3.1" fill="#f80818"/>
<circle cx="579.4" cy="379.6" r="3.1" fill="#f80818"/>
<circle cx="590.0" cy="361.7" r="3.1" fill="#f80818"/>
<circle cx="600.5" cy="360.7" r="3.1" fill="#f80818"/>
<circle cx="610.9" cy="351.0" r="3.1" fill="#f80818"/>
<circle cx="621.6" cy="341.3" r="3.1" fill="#f80818"/>
<circle cx="632.1" cy="331.4" r="3.1" fill="#f80818"/>
<circle cx="642.8" cy="319.0" r="3.1" fill="#f80818"/>
<circle cx="652.9" cy="318.6" r="3.1" fill="#f80818"/>
<circle cx="663.3" cy="306.4" r="3.1" fill="#f80818"/>
<circle cx="674.0" cy="302.4" r="3.1" fill="#f80818"/>
<circle cx="694.8" cy="301.2" r="3.1" fill="#f80818"/>
<circle cx="484.7" cy="457.9" r="3.1" fill="#f80818"/>
<circle cx="505.7" cy="457.2" r="3.1" fill="#f80818"/>
<circle cx="516.5" cy="452.2" r="3.1" fill="#f80818"/>
<circle cx="527.2" cy="447.2" r="3.1" fill="#f80818"/>
<circle cx="537.5" cy="450.0" r="3.1" fill="#f80818"/>
<circle cx="547.9" cy="439.3" r="3.1" fill="#f80818"/>
<circle cx="558.7" cy="435.8" r="3.1" fill="#f80818"/>
<circle cx="569.0" cy="432.0" r="3.1" fill="#f80818"/>
<circle cx="579.4" cy="426.6" r="3.1" fill="#f80818"/>
<circle cx="589.9" cy="419.6" r="3.1" fill="#f80818"/>
<circle cx="610.9" cy="404.0" r="3.1" fill="#f80818"/>
<circle cx="631.9" cy="381.1" r="3.1" fill="#f80818"/>
<circle cx="652.9" cy="359.4" r="3.1" fill="#f80818"/>
<circle cx="674.0" cy="333.1" r="3.1" fill="#f80818"/>
<circle cx="694.8" cy="301.2" r="3.1" fill="#f80818"/>
<path d="M508.08,361.38 L513.52,355.22 M519.98,352.65 L523.22,352.95 M530.49,355.22 L534.11,357.28 M540.42,361.78 L544.88,365.72 M551.58,369.26 L554.62,370.04 M560.32,374.40 L567.08,386.40 M571.72,392.60 L576.68,397.70 M581.38,403.86 L588.02,415.14 M592.79,421.22 L607.81,435.88 M613.89,440.70 L617.81,443.20 M624.10,442.80 L628.90,438.80 M633.82,432.90 L640.48,421.10 M643.59,413.99 L651.71,388.61 M654.27,381.25 L661.83,361.15 M667.06,356.95 L669.84,356.55" fill="none" stroke="#000" stroke-width="1.9" stroke-linecap="butt"/>
<path d="M506.93,367.93 L514.67,387.47 M517.09,394.87 L526.11,429.43 M530.36,435.33 L534.24,437.87 M540.49,442.50 L544.81,446.10 M551.04,446.43 L555.16,443.67 M561.63,439.31 L565.77,436.49 M571.44,431.25 L576.96,424.35 M581.47,418.00 L587.93,407.70 M591.88,400.98 L598.22,389.42 M602.53,382.95 L608.17,375.85 M613.17,369.86 L618.53,363.74 M624.34,358.64 L628.66,355.76 M635.72,354.40 L638.58,355.00 M645.79,353.87 L649.51,351.73 M656.56,351.15 L659.54,352.25 M667.06,353.01 L669.84,352.59" fill="none" stroke="#000" stroke-width="1.9" stroke-linecap="butt"/>
<rect x="502.40" y="361.20" width="6.2" height="6.2" fill="#000"/>
<rect x="513.00" y="349.20" width="6.2" height="6.2" fill="#000"/>
<rect x="524.00" y="350.20" width="6.2" height="6.2" fill="#000"/>
<rect x="534.40" y="356.10" width="6.2" height="6.2" fill="#000"/>
<rect x="544.70" y="365.20" width="6.2" height="6.2" fill="#000"/>
<rect x="555.30" y="367.90" width="6.2" height="6.2" fill="#000"/>
<rect x="565.90" y="386.70" width="6.2" height="6.2" fill="#000"/>
<rect x="576.30" y="397.40" width="6.2" height="6.2" fill="#000"/>
<rect x="586.90" y="415.40" width="6.2" height="6.2" fill="#000"/>
<rect x="607.50" y="435.50" width="6.2" height="6.2" fill="#000"/>
<rect x="618.00" y="442.20" width="6.2" height="6.2" fill="#000"/>
<rect x="628.80" y="433.20" width="6.2" height="6.2" fill="#000"/>
<rect x="639.30" y="414.60" width="6.2" height="6.2" fill="#000"/>
<rect x="649.80" y="381.80" width="6.2" height="6.2" fill="#000"/>
<rect x="660.10" y="354.40" width="6.2" height="6.2" fill="#000"/>
<rect x="670.60" y="352.90" width="6.2" height="6.2" fill="#000"/>
<rect x="502.40" y="361.20" width="6.2" height="6.2" fill="#000"/>
<rect x="513.00" y="388.00" width="6.2" height="6.2" fill="#000"/>
<rect x="524.00" y="430.10" width="6.2" height="6.2" fill="#000"/>
<rect x="534.40" y="436.90" width="6.2" height="6.2" fill="#000"/>
<rect x="544.70" y="445.50" width="6.2" height="6.2" fill="#000"/>
<rect x="555.30" y="438.40" width="6.2" height="6.2" fill="#000"/>
<rect x="565.90" y="431.20" width="6.2" height="6.2" fill="#000"/>
<rect x="576.30" y="418.20" width="6.2" height="6.2" fill="#000"/>
<rect x="586.90" y="401.30" width="6.2" height="6.2" fill="#000"/>
<rect x="597.00" y="382.90" width="6.2" height="6.2" fill="#000"/>
<rect x="607.50" y="369.70" width="6.2" height="6.2" fill="#000"/>
<rect x="618.00" y="357.70" width="6.2" height="6.2" fill="#000"/>
<rect x="628.80" y="350.50" width="6.2" height="6.2" fill="#000"/>
<rect x="639.30" y="352.70" width="6.2" height="6.2" fill="#000"/>
<rect x="649.80" y="346.70" width="6.2" height="6.2" fill="#000"/>
<rect x="660.10" y="350.50" width="6.2" height="6.2" fill="#000"/>
<rect x="670.60" y="348.90" width="6.2" height="6.2" fill="#000"/>
<rect x="454" y="287.5" width="272" height="198.3" fill="none" stroke="#000" stroke-width="2.2"/>
<line x1="454" y1="287.3" x2="456.5" y2="287.3" stroke="#000" stroke-width="2"/>
<line x1="454" y1="320.3" x2="456.5" y2="320.3" stroke="#000" stroke-width="2"/>
<line x1="454" y1="353.3" x2="456.5" y2="353.3" stroke="#000" stroke-width="2"/>
<line x1="454" y1="386.3" x2="456.5" y2="386.3" stroke="#000" stroke-width="2"/>
<line x1="454" y1="419.3" x2="456.5" y2="419.3" stroke="#000" stroke-width="2"/>
<line x1="454" y1="452.3" x2="456.5" y2="452.3" stroke="#000" stroke-width="2"/>
<line x1="454" y1="485.3" x2="456.5" y2="485.3" stroke="#000" stroke-width="2"/>
<line x1="499.54" y1="485.8" x2="499.54" y2="483.3" stroke="#000" stroke-width="2"/>
<line x1="544.82" y1="485.8" x2="544.82" y2="483.3" stroke="#000" stroke-width="2"/>
<line x1="635.38" y1="485.8" x2="635.38" y2="483.3" stroke="#000" stroke-width="2"/>
<line x1="680.66" y1="485.8" x2="680.66" y2="483.3" stroke="#000" stroke-width="2"/>
<line x1="476.90000000000003" y1="485.8" x2="476.90000000000003" y2="484.0" stroke="#000" stroke-width="1.5"/>
<line x1="522.1800000000001" y1="485.8" x2="522.1800000000001" y2="484.0" stroke="#000" stroke-width="1.5"/>
<line x1="567.46" y1="485.8" x2="567.46" y2="484.0" stroke="#000" stroke-width="1.5"/>
<line x1="612.74" y1="485.8" x2="612.74" y2="484.0" stroke="#000" stroke-width="1.5"/>
<line x1="658.02" y1="485.8" x2="658.02" y2="484.0" stroke="#000" stroke-width="1.5"/>
<line x1="703.3" y1="485.8" x2="703.3" y2="484.0" stroke="#000" stroke-width="1.5"/>
<text x="451.5" y="293.3" font-size="19.5" text-anchor="end" textLength="8.6" lengthAdjust="spacingAndGlyphs">4</text>
<text x="451.5" y="326.3" font-size="19.5" text-anchor="end" textLength="8.6" lengthAdjust="spacingAndGlyphs">3</text>
<text x="451.5" y="359.3" font-size="19.5" text-anchor="end" textLength="8.6" lengthAdjust="spacingAndGlyphs">2</text>
<text x="451.5" y="392.3" font-size="19.5" text-anchor="end" textLength="8.6" lengthAdjust="spacingAndGlyphs">1</text>
<text x="451.5" y="425.3" font-size="19.5" text-anchor="end" textLength="8.6" lengthAdjust="spacingAndGlyphs">0</text>
<text x="451.5" y="458.3" font-size="19.5" text-anchor="end" textLength="14.2" lengthAdjust="spacingAndGlyphs">-1</text>
<text x="451.5" y="491.3" font-size="19.5" text-anchor="end" textLength="14.2" lengthAdjust="spacingAndGlyphs">-2</text>
<text x="454.26000000000005" y="504.2" font-size="18.5" text-anchor="middle" textLength="21.5" lengthAdjust="spacingAndGlyphs">-60</text>
<text x="499.54" y="504.2" font-size="18.5" text-anchor="middle" textLength="21.5" lengthAdjust="spacingAndGlyphs">-40</text>
<text x="544.82" y="504.2" font-size="18.5" text-anchor="middle" textLength="21.5" lengthAdjust="spacingAndGlyphs">-20</text>
<text x="590.1" y="504.2" font-size="18.5" text-anchor="middle" textLength="8" lengthAdjust="spacingAndGlyphs">0</text>
<text x="635.38" y="504.2" font-size="18.5" text-anchor="middle" textLength="16.5" lengthAdjust="spacingAndGlyphs">20</text>
<text x="680.66" y="504.2" font-size="18.5" text-anchor="middle" textLength="16.5" lengthAdjust="spacingAndGlyphs">40</text>
<text x="725.94" y="504.2" font-size="18.5" text-anchor="middle" textLength="16.5" lengthAdjust="spacingAndGlyphs">60</text>
<text x="544.1" y="526.6" font-size="20.5" textLength="77.6" lengthAdjust="spacingAndGlyphs">E (kV/cm)</text>
<text x="429" y="380.1" font-size="20.5" text-anchor="middle" textLength="126" lengthAdjust="spacingAndGlyphs" transform="rotate(-90 429 380.1)">ΔM<tspan font-size="13.5" dy="5">E</tspan><tspan dy="-5">/M</tspan><tspan font-size="13.5" dy="5">0,H</tspan><tspan dy="-5"> (%)</tspan></text>
<text x="467.6" y="312.2" font-size="18.5" textLength="65.8" lengthAdjust="spacingAndGlyphs">E||H||[001]</text>
<text x="535.3" y="317.0" font-size="12" textLength="13" lengthAdjust="spacingAndGlyphs">PC</text>
<text x="478.7" y="338.8" font-size="18.5" textLength="43.3" lengthAdjust="spacingAndGlyphs">H=1 T</text>
<text x="616.2" y="314.7" font-size="17.5" textLength="35.1" lengthAdjust="spacingAndGlyphs" fill="#e81414" color="#e81414">200K</text>
<text x="662.5" y="394.5" font-size="17.5" textLength="35.9" lengthAdjust="spacingAndGlyphs">300K</text>
</svg>
</body></html>
